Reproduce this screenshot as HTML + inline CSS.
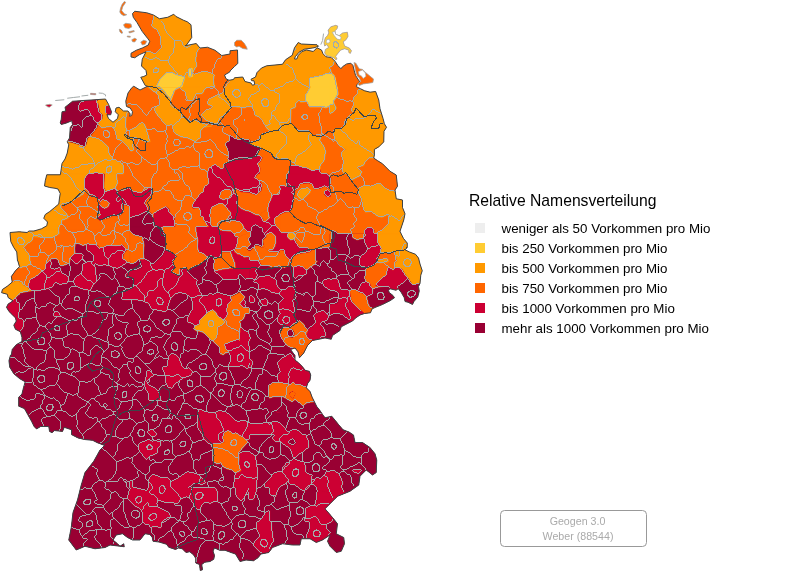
<!DOCTYPE html><html><head><meta charset="utf-8"><title>Geogen 3.0</title>
<style>html,body{margin:0;padding:0;background:#fff}body{width:800px;height:580px;overflow:hidden;position:relative;font-family:"Liberation Sans",Arial,sans-serif}svg{position:absolute;left:0;top:0;display:block}</style></head><body>
<svg width="800" height="580" viewBox="0 0 800 580">
<defs><clipPath id="de"><polygon points="132.5,13.5 134.75,11.25 146.75,12.75 153.5,15 159.5,18.75 167.75,17.25 173.75,14.25 176,16.5 183.5,20.25 187.25,21.75 191,24.75 191.75,37.5 186.5,45 185,45.75 196.25,43.5 200,48 207.5,47.25 215,50.25 221.75,55.5 230,54 230,50.75 237.5,50 237.8,63.5 234.5,66.5 230,71 229.75,72 224.5,75 226,78.75 229,80.25 233.5,79.5 234.5,77.75 242.75,77 245,81.5 251,83 252.5,85.25 254.75,84.5 254,80.75 251.75,80.75 251,79.25 255.5,77 257,72.5 261.5,68 266.75,65.75 275,65 282.5,64.25 285.5,59.75 290,56.75 292.25,55.25 294.5,47.75 298.25,42.5 301.25,44 317,44.75 318.5,46.25 314,47.75 304.25,49.25 299,52.25 295.25,56.75 294.5,59 296.75,59 298.25,55.25 302,51.5 306.5,50 313.25,51.5 317,47.75 321.5,50 323,53.75 326,56.75 331.25,57.5 335,61.25 338,65.75 341,68.75 342.56,66.67 346.69,63.92 350.83,63.23 352.89,65.3 354.27,70.81 355.65,75.63 358.41,79.76 359.78,81.83 357.03,84.59 356.34,86.65 360.47,88.72 364.61,90.79 370.12,92.17 375.63,91.48 378.75,100 380,108.75 383.12,118.75 384.38,123.75 386.5,127.25 384,131.25 383.75,141.88 378.75,146.88 374.38,149.38 374.38,155 373.75,158.12 377.5,160.62 382.5,163.75 390,171.25 396.25,175 397.5,186.25 395,190 396.25,198.75 402.5,200 402.5,207.5 405,213.75 403.75,220 400,231.25 401.25,234 403.5,238.5 407.25,243 407.25,247.5 405,249.75 409.5,252 415.5,254.25 418.5,258 420,264 422.25,270.75 420.75,275.25 420,283.5 418.5,286.5 419.25,291 417.75,297 414,301.5 412.5,304.5 408,302.25 405,301.5 404.25,297.75 401.25,292.5 398.25,288.75 396,290.25 390,288.75 388.5,290.25 389.25,292.5 393,295.5 394.5,297.75 390,300.75 382.5,304.5 375,307.5 372,309 370.5,312.75 364.5,313.5 360,315 355.5,318 352.5,321 341.25,326.75 340,330.5 332.5,335.5 331.25,339.25 325,338 312.5,340.5 307.5,345.5 303.75,353 299.5,357.75 298,351.75 295,348 292.75,348.75 290.5,349.5 295,355.5 295,360 298.75,363 301.75,366 305.5,370.5 309.25,371.25 310.75,375 310,380.25 307.75,383.25 306.25,387.75 310,391.5 312.25,397.5 314.5,402 316.75,406.5 319.75,410.25 322.75,414.75 325,417.75 331.75,416.25 335.5,420.75 338.5,424.5 343,429.75 349,432 353.5,435 355,442.5 362.5,442.5 370,447.5 375,453.75 376.75,460 376.25,472.5 372.5,475 366.25,470 360,476.25 358.75,485 350,491.25 337.5,496.25 330,503.75 325,508.75 332.5,517.5 337.5,523.75 336.25,533.75 343.75,537.5 344.5,543.75 341.25,551.25 336.25,552.5 330,546.25 327.5,541.25 330,535 322.5,540 316.25,542.5 310,538.75 301.25,538.75 300,545 292.5,545 282.5,543.75 272.5,547.5 268.75,552.5 261,554 258,557.75 253.5,560.75 246,560 240,561.5 235.5,554 231,552.5 225,550.25 219.75,550.25 214.5,548 213,551 214.5,555.5 213.75,559.25 210,561.5 204.75,562.25 201.75,564.5 202.5,569.75 200.25,570.5 199.5,564.5 195.75,563 195.75,558.5 193.5,554.75 189.75,551.75 186,552.5 182.25,548.75 178.5,548 175.5,549.5 168.75,547.25 166.5,544.25 159,542 153,541.25 152.25,537.5 150,534.5 145,533.75 140,540 132.5,540 127.5,537.5 122.5,533.75 116.25,535 113,540 117.5,543.75 120,546.25 123.75,543.75 124.25,546.75 110,545 105,547.5 95,548.75 85,546.25 76.25,550 68.75,540 71.25,527.5 73,512.5 77.5,500 81.25,485 85,472.5 93.75,461.25 100,450 105,445 104,445.19 97.5,442.75 92.62,440.31 84.5,439.5 78,437.88 71.5,434.62 71.5,429.75 64.19,427.31 62.56,431.38 54.44,430.56 52,432.68 49.56,431.38 48.75,426.5 40.62,426.5 36.56,428.94 34.12,426.5 31.69,421.62 27.62,414.31 24.38,408.62 18.69,406.19 18.69,397.25 21.94,394 23.56,387.5 25.19,381.81 19.5,378.56 13.81,373.69 9.75,367.19 8.94,360.69 10.56,355 11.38,354.93 12.19,349.56 16.25,344.69 21.94,341.44 21.94,337.38 20.31,331.69 15.44,329.25 13.81,325.19 16.25,321.12 15.44,317.88 12.19,314.62 8.94,311.38 6.5,307.31 8.12,304.06 13,300.81 8.12,297.56 7.31,294.31 1.62,292.69 2.44,289.44 7.31,286.19 12.19,282.12 11.38,276.44 15.44,270.75 19.5,266.69 17.88,261 17.5,261 16.75,252 13.75,247.5 10.75,241.5 10,232.5 19,231.75 27.25,232.5 28.75,231 34,231 41.5,228.75 46.75,225.75 47.5,222 43.75,218.25 45.25,214.5 49.75,211.5 54.25,207.75 58.75,204 59.5,198 60.25,193.5 58,189 55,188.25 49.75,187.5 44.5,186 45.25,180.75 46.75,174.75 60.25,174.75 60.5,174 61.25,168.75 62,163.5 65,159 67.25,153 68.75,144.75 67.25,141.75 69.5,138 70.25,127.5 72.5,124.5 71.75,120.75 66.5,123 61.25,124.5 60.2,123 61.25,119.25 62,111.75 65.75,111 65,107.25 72.5,101.25 83,100.5 95,99.75 105.5,99 108.5,104.25 111.5,111.75 110.75,114.75 107,114.75 108.5,118.5 113,122.25 117.5,118.5 118.25,114.75 115.25,111.75 116,108 119,107.25 123.5,111 128,111 130.25,114 129.5,116.25 131.75,115.5 132.5,111.75 130.25,108 126.5,106.5 125.75,101.25 128,93 131.75,87.75 133.75,86.25 140,90 147.5,86.25 145.25,85.5 140.75,77.25 143.75,76.5 146.75,75 146,70.5 141.5,66 142.25,59.25 146,51.75 139.25,54.75 134.75,57.75 131,57 131,53.25 136.25,50.25 142.25,48 148.25,45 149.75,41.25 147.5,38.25 142.25,31.5 137,22.5 133.25,17.25"/>
<polygon points="45.5,105 50,104.25 52.25,105 49.25,107.25 47,106.5"/>
<polygon points="90.5,93.3 95.75,93.6 95.75,94.8 90.5,94.5"/>
<polygon points="124.25,1.5 125.75,2.25 122.75,6.75 121.7,10.5 124.25,13.8 126.8,14.7 123.8,15.75 121.25,14.25 119.75,12 120.5,8.25 122,4.5"/>
<polygon points="123.5,24.75 125.75,23.25 131,24 131.75,27 128.75,28.5 125,27.75"/>
<polygon points="119.3,29.25 121.25,30 122.75,33 121.25,33.3 119.75,31.5"/>
<polygon points="131.75,39.75 134.75,38.25 136.7,39.3 134.75,42 132.5,41.7"/>
<polygon points="140.75,42 143.75,40.2 146.75,41.25 145.25,44.25 142.25,45"/>
<polygon points="128.75,31.8 134,30.45 134.3,31.5 129.5,33"/>
<polygon points="127.25,36 130.25,36.3 130.25,37.2 127.25,36.9"/>
<polygon points="234.5,42.5 236.75,40.25 241.25,40.25 244.25,43.25 246.5,47 247.25,49.25 242.75,48.5 239,46.25 236.75,47 234.5,45.5"/>
<polygon points="328.09,30.16 330.85,26.71 335.67,25.33 337.74,26.02 337.05,28.78 334.98,30.85 335.67,34.29 339.11,35.67 342.56,32.91 347.38,32.22 348.07,36.36 346,39.8 343.25,41.87 344.63,46 349.45,48.07 351.52,50.83 350.14,53.58 348.76,52.2 348.76,50.14 344.63,48.76 340.49,50.14 337.74,53.58 335.67,56.34 337.05,59.09 335.67,59.78 333.6,57.72 329.47,56.34 326.71,55.65 324.65,52.89 325.33,49.45 328.78,47.38 326.71,44.63 324.65,46 323.96,42.56 325.33,37.74 327.4,35.67 328.78,32.91"/>
<polygon points="354,62.54 355.93,63.23 359.09,68.74 362.54,69.43 365.98,72.87 373.56,79.07 372.87,82.52 368.74,83.21 363.23,83.9 359.37,85.55 357.99,83.9 360.75,81.42 359.37,77.97 357.03,75.63 355.79,71.5 354.96,67.36"/>
</clipPath></defs>
<rect width="800" height="580" fill="#fff"/>
<g clip-path="url(#de)" shape-rendering="geometricPrecision">
<rect x="0" y="0" width="430" height="580" fill="#ff6600"/>
<polygon fill="#990033" points="0,340 430,340 430,580 0,580"/>
<polygon fill="#ff9900" stroke="#ff9900" stroke-width="0.6" points="181.75,84 184.75,77.25 193,75 202,72 211,74.25 214,78 211.75,85.5 205,89.25 202.75,93.75 196,94.5 193,100.5 189.25,100.5 186.25,96.75 185.5,92.25 181.75,90 179.5,87.75"/>
<polygon fill="#ff9900" stroke="#ff9900" stroke-width="0.6" points="208.75,99.75 213.25,97.5 217,95.25 220,94.5 223.75,92.25 224.5,97.5 229,102 232,104.25 230.5,109.5 226,114 220,118.5 217,124.5 211.75,123 205,120 201.25,114.75 206.5,110.25 211.75,108.75 212.5,106.5 208,105"/>
<polygon fill="#ff9900" stroke="#ff9900" stroke-width="0.6" points="223.75,90 227.5,84 233.5,79.5 238,77.25 244,79.5 250,82.5 250,105 244,108 239.5,106.5 233.5,105 232,104.25 229,102 224.5,97.5"/>
<polygon fill="#ff9900" stroke="#ff9900" stroke-width="0.6" points="148,87.75 157,87 160,87 163.75,90 167.5,96 171.25,99.75 170.5,103.5 173.5,108 178.75,110.25 181.75,113.25 182.5,117.75 181,120 173.5,124.5 168.25,126 163.75,123 160.75,118.5 156.25,114 154.75,108 160,105 159.25,96 154,91.5"/>
<polygon fill="#ff9900" stroke="#ff9900" stroke-width="0.6" points="173.5,124.5 181,120 182.5,117.75 187,119.25 190.75,122.25 194.5,119.25 198.25,122.25 201.25,123 208,126 211.75,126 203.5,127.5 200.5,131.25 200.5,138 195.25,141.75 187,138 181,137.25 175,133.5 172.75,127.5"/>
<polygon fill="#ff9900" stroke="#ff9900" stroke-width="0.6" points="130,130.5 136,127.5 141.25,123 145,124.5 148,133.5 150.25,141.75 145,141.75 136,138 130,138.75"/>
<polygon fill="#ffcc33" stroke="#ffcc33" stroke-width="0.6" points="157,85.5 162.25,75.75 166,73.5 173.5,72.75 179.5,75 184.75,77.25 181.75,84 179.5,87.75 175,90 171.25,99.75 167.5,96 163.75,90 160,87"/>
<polygon fill="#ffcc33" points="189.25,69 192.25,69 192.25,76.5 189.25,76.5"/>
<polygon fill="#ff9900" stroke="#ff9900" stroke-width="0.6" points="153.5,15 159.5,18.75 167.75,17.25 173.75,14.25 176,16.5 183.5,20.25 187.25,21.75 191,24.75 191.75,37.5 186.5,45 185,45.75 196.25,43.5 200,48 197,52.5 196.25,60 197,66 192.5,73.5 194,75 200,73.5 206,72 215,75 213.5,79.5 215,87 182,87 146,87 145.25,85.5 140.75,77.25 146.75,75 146,70.5 141.5,66 142.25,59.25 146,51.75 150.5,51.75 155,54.75 161.75,48 161,37.5 157.25,30 152,27 153.5,19.5"/>
<polygon fill="#ffcc33" stroke="#ffcc33" stroke-width="0.6" points="161,78 167,72.75 173,72.75 176,75 185,77.25 182,87 156.5,87"/>
<polygon fill="#ffcc33" stroke="#ffcc33" stroke-width="0.6" points="188.75,69 192.2,68.25 192.5,76.5 188.75,77.25"/>
<polygon fill="#ff9900" stroke="#ff9900" stroke-width="0.6" points="230,77 242.75,76.25 255.5,76.25 261.5,67.25 275,64.25 282.5,63.5 292.25,54.5 294.5,47 298.25,41.75 318.5,44 323,53.75 326,56.75 331.25,57.5 335,61.25 333.5,65 329.75,68 332,71.75 323,75.5 315.5,77.75 311.75,79.25 311,87.5 305.75,95 308,101.75 300.5,102.5 298.25,99.5 295.25,103.25 296,107 230,107"/>
<polygon fill="#ffcc33" stroke="#ffcc33" stroke-width="0.6" points="311.75,79.25 315.5,77.75 323,75.5 332,73.25 335,77 335.75,83 337.25,90.5 335,95 333.5,101 335,107 309.5,107 308,101.75 305.75,95 311,87.5"/>
<polygon fill="#ffcc33" stroke="#ffcc33" stroke-width="0.6" points="310,78 316,77.25 331,73.5 334,75 335.5,79.5 337,87 310,87"/>
<polygon fill="#ff9900" stroke="#ff9900" stroke-width="0.6" points="230,87 311,87 306.5,94.5 305.75,101.25 299,100.5 296,103.5 295.25,108 291.5,108.75 290.75,123 287.75,124.5 282.5,125.25 278,130.5 271.25,131.25 266.75,129 262.25,119.25 259.25,117 255.5,116.25 254.75,111 249.5,105 245,108 236.75,107.25 232.25,105 230,100.5"/>
<polygon fill="#ffcc33" stroke="#ffcc33" stroke-width="0.6" points="311,87 337.25,87 338,93 336.5,97.5 333.5,101.25 332,104.25 326,108 320,105.75 314,105 309.5,102 305.75,101.25 306.5,94.5"/>
<polygon fill="#ff9900" stroke="#ff9900" stroke-width="0.6" points="260.75,135 266.75,132.75 271.25,131.25 278,130.5 282.5,125.25 287.75,124.5 290.75,123 294.5,126.75 298.25,131.25 305,131.25 309.5,131.25 313.25,135.75 321.5,136.5 320,141 323.75,145.5 326,151.5 324.5,160.5 320.75,165 320,169.5 311.75,171 308,168.75 303.5,165 297.5,165.75 290,160.5 286.25,159 278,159.75 273.5,157.5 271.25,153 262.25,149.25 257.75,147 251,144.75 248.75,143.25 254,141.75 260,139.5"/>
<polygon fill="#ff9900" stroke="#ff9900" stroke-width="0.6" points="350,117 346.25,119.25 345.5,124.5 341.75,128.25 335,129 333.5,132.75 335,138 338,144 344,148.5 350,150"/>
<polygon fill="#ff9900" stroke="#ff9900" stroke-width="0.6" points="350,150 344,151.5 341.75,154.5 344,162 342.5,168.75 344,174 350,174"/>
<polygon fill="#990033" stroke="#990033" stroke-width="0.6" points="230,135 233,137.25 237.5,140.25 243.5,138.75 248,144 254,146.25 262.25,148.5 257.75,151.5 257,155.25 251,159 245,158.25 239,159 233,162 230,161.25"/>
<polygon fill="#cc0033" stroke="#cc0033" stroke-width="0.6" points="230,161.25 233,162 239,159 245,158.25 251,159 257,155.25 262.25,157.5 260,162 257,163.5 260,168 259.25,174 230,174"/>
<polygon fill="#cc0033" stroke="#cc0033" stroke-width="0.6" points="290,165.75 297.5,165.75 303.5,168 308,168.75 311.75,171 320,169.5 320.75,174 289.25,174"/>
<polygon fill="#ff9900" stroke="#ff9900" stroke-width="0.6" points="358.5,90 366,90 369.75,92.25 375,91.5 376.5,92.25 378,103.5 380.25,111 382.5,118.5 384.75,126 387,127.5 384,132 383.25,141.75 381.75,147 340.5,147 334.5,136.5 333.75,130.5 338.25,129 342,129.75 345,124.5 345.75,120 350.25,115.5 354,112.5 351.75,111.75 352.5,108 354,105 353.25,100.5 354.75,96.75 357.75,94.5"/>
<polygon fill="#ffcc33" stroke="#ffcc33" stroke-width="0.6" points="330,75 334.5,76.5 336.75,87 338.25,94.5 333,100.5 330,103.5"/>
<polygon fill="#ff9900" stroke="#ff9900" stroke-width="0.6" points="330,105 334.5,104.25 336.75,108 333.75,111.75 330,114"/>
<polygon fill="#ff9900" stroke="#ff9900" stroke-width="0.6" points="97.25,99 105.5,99 108.5,104.25 106.25,105.75 105.5,111 107,114.75 108.5,118.5 113,122.25 111.5,126.75 105.5,127.5 101.75,128.25 98,123 101.75,119.25 102.2,114.75 99.5,112.5 98,105"/>
<polygon fill="#ff9900" stroke="#ff9900" stroke-width="0.6" points="113,122.25 117.5,118.5 118.25,114.75 115.25,111.75 116,108 119,107.25 123.5,111 128,111 126.5,117 125.75,126 127.25,129.75 125,132 128,136.5 134,139.5 133.25,145.5 134,150 131,151.5 128,147 123.5,141.75 117.5,139.5 116,132 113.75,128.25 111.5,126.75"/>
<polygon fill="#ff9900" stroke="#ff9900" stroke-width="0.6" points="68.75,141.75 72.5,142.5 80,144.75 84.5,147 86,144.75 87.5,138 89.75,136.5 93.5,138 99.5,139.5 105.5,144 108.5,147 109.25,153 113,159 117.5,161.25 123.5,165 123.5,174 60.5,174 61.25,168.75 62,163.5 65,159 67.25,153 68.75,144.75"/>
<polygon fill="#990033" stroke="#990033" stroke-width="0.6" points="65,107.25 72.5,101.25 83,100.5 95,99.75 97.25,99 98,105 99.5,112.5 102.2,114.75 101.75,119.25 98,123 97.25,126.75 93.5,132 89.75,136.5 87.5,138 86,144.75 84.5,147 80,144.75 72.5,142.5 68.75,141.75 69.5,138 70.25,127.5 72.5,124.5 71.75,120.75 61.25,124.5 60.2,123 61.25,119.25 62,111.75 65.75,111"/>
<polygon fill="#cc0033" stroke="#cc0033" stroke-width="0.6" points="78.5,106.5 81.5,102 89,100.5 96.5,99.75 98,105 99.5,112.5 102.2,114.75 101.75,119.25 98,123 95,122.25 93.5,117 90.5,114 89,109.5 84.5,110.25 80,111.75"/>
<polygon fill="#cc0033" stroke="#cc0033" stroke-width="0.6" points="60.5,123 66.5,121.2 71.75,120.3 73.25,123 71.75,124.5 66.5,123.75 61.25,124.8"/>
<polygon fill="#cc0033" stroke="#cc0033" stroke-width="0.6" points="105.5,106.5 108.5,105.75 111.5,111.75 110.75,114.75 107,114.75 105.8,111"/>
<polygon fill="#cc0033" points="94.25,172.5 98,172.5 98,174 94.25,174"/>
<polygon fill="#990033" stroke="#990033" stroke-width="0.6" points="225.25,143.75 232,140 250,140 250,158.75 244,158 235,158.75 229.75,161.75 228.25,159.5 229,153.5 227.5,147.5"/>
<polygon fill="#cc0033" stroke="#cc0033" stroke-width="0.6" points="250,158.75 244,158 235,158.75 229.75,161.75 224.5,164 223.75,168.5 220,168.5 215.5,164.75 209.5,167.75 208,174.5 209.5,183.5 205,186.5 203.5,191.75 200.5,194 196,200 192.25,206 193,208.25 199.75,207.5 201.25,212 200.5,216.5 203.5,216.5 205,221.75 209.5,227 218.5,227 220,221.75 227.5,220.25 235,221 238,212 237.25,204.5 239.5,199.25 235,194 233.5,190.25 235,188 241,191.75 250,192.5"/>
<polygon fill="#ff6600" stroke="#ff6600" stroke-width="0.6" points="220.75,192.5 225.25,189.5 230.5,190.25 232,192.5 230.5,199.25 226,200.75 221.5,197.75"/>
<polygon fill="#ff6600" stroke="#ff6600" stroke-width="0.6" points="218.5,203.75 223.75,203.75 226,209 232,212 230.5,218 226,221 220,221.75 218.5,227 211.75,227 211,221 210.25,215 211.75,207.5 215.5,206"/>
<polygon fill="#cc0033" stroke="#cc0033" stroke-width="0.6" points="130,188 133,191.75 140.5,193.25 146.5,189.5 150.25,188 152.5,190.25 151,195.5 146.5,200 145,203.75 148,207.5 148.75,211.25 144.25,212.75 140.5,215 134.5,216.5 130,218"/>
<polygon fill="#990033" stroke="#990033" stroke-width="0.6" points="130,218 134.5,216.5 140.5,215 144.25,212.75 148.75,211.25 152.5,215 154,221 154,227 130,227"/>
<polygon fill="#cc0033" stroke="#cc0033" stroke-width="0.6" points="154,213.5 158.5,210.5 166,206.75 169,209 169.75,213.5 174.25,216.5 175,227 154,227"/>
<polygon fill="#ff9900" stroke="#ff9900" stroke-width="0.6" points="46.75,174 88,174 85,178.5 85.75,188.25 83.5,194.25 76,198.75 70.75,202.5 61,204.75 61.75,209.25 67.75,214.5 68.5,218.25 62.5,220.5 59.5,226.5 58.75,231.75 61.75,236.25 55,238.5 52,241.5 43,240 34,237 29.5,240 25,247.5 28,252 28.75,258 26.5,261 17.5,261 16.75,252 13.75,247.5 10.75,241.5 10,232.5 19,231.75 27.25,232.5 28.75,231 34,231 41.5,228.75 46.75,225.75 47.5,222 43.75,218.25 45.25,214.5 49.75,211.5 54.25,207.75 58.75,204 59.5,198 60.25,193.5 58,189 49.75,187.5 44.5,186 45.25,180.75"/>
<polygon fill="#ff9900" stroke="#ff9900" stroke-width="0.6" points="104.5,174 116.5,174 118,183 115,189 112,189.75 106,192 103.75,187.5"/>
<polygon fill="#cc0033" stroke="#cc0033" stroke-width="0.6" points="88,174 104.5,174 103.75,187.5 106,192 112,189.75 115,189 118,192 121.75,198.75 122.5,204 121.75,210 124,211.5 121,214.5 118,216 113.5,215.25 109,217.5 103.75,219 100,220.5 97,218.25 100.75,215.25 99.25,210 97.75,207 100,203.25 99.25,199.5 95.5,196.5 91,195 87.25,189.75 85,188.25 85,178.5"/>
<polygon fill="#ff6600" stroke="#ff6600" stroke-width="0.6" points="100,202.5 102.25,200.25 106.75,201 109.75,203.25 108.25,207 104.5,208.5 100.75,206.25"/>
<polygon fill="#cc0033" stroke="#cc0033" stroke-width="0.6" points="116.5,192 124,190.5 130,187.5 130,206.25 127,205.5 122.5,204 121.75,198.75 118,192"/>
<polygon fill="#990033" stroke="#990033" stroke-width="0.6" points="75.25,243.75 78.25,243 82,245.25 86.5,244.5 87.25,252 91.75,252.75 91.75,261 83.5,261 83.5,255.75 79.75,253.5 76,253.5"/>
<polygon fill="#cc0033" stroke="#cc0033" stroke-width="0.6" points="70.75,255.75 76,253.5 79.75,253.5 83.5,255.75 83.5,261 70,261"/>
<polygon fill="#cc0033" stroke="#cc0033" stroke-width="0.6" points="87.25,244.5 94,244.5 98.5,246 97,252 95.5,255 91.75,252.75 87.25,252"/>
<polygon fill="#cc0033" stroke="#cc0033" stroke-width="0.6" points="98.5,246 103,247.5 109,249 115,245.25 121,246 125.5,249 126.25,255 122.5,261 91.75,261 91.75,252.75 95.5,255 97,252"/>
<polygon fill="#990033" stroke="#990033" stroke-width="0.6" points="50.5,260.25 54.25,258.75 58,261 50.5,261"/>
<polygon fill="#cc0033" points="130,227 250,227 250,314 130,314"/>
<polygon fill="#990033" stroke="#990033" stroke-width="0.6" points="130,227 157,227 161.5,230 165.25,234.5 166,242 165.25,249.5 162.25,255.5 157.75,260 153.25,264.5 149.5,261.5 144.25,259.25 143.5,253.25 144.25,245 142.75,237.5 134.5,235.25 130,231.5"/>
<polygon fill="#ff6600" stroke="#ff6600" stroke-width="0.6" points="130,231.5 134.5,235.25 142.75,237.5 144.25,245 143.5,253.25 144.25,259.25 139,259.25 136,263 130,264.5"/>
<polygon fill="#990033" stroke="#990033" stroke-width="0.6" points="130,264.5 136,263 139,259.25 141.25,263 142,267.5 136,269.75 130,270.5"/>
<polygon fill="#990033" stroke="#990033" stroke-width="0.6" points="130,277.25 133,278 133.75,287 130,290"/>
<polygon fill="#990033" stroke="#990033" stroke-width="0.6" points="130,300.5 139,301.25 145,303.5 149.5,308.75 150.25,314 130,314"/>
<polygon fill="#ff6600" stroke="#ff6600" stroke-width="0.6" points="162.25,227 196,227 196.75,234.5 198.25,240.5 197.5,246.5 199,251.75 205,254.75 208,257.75 203.5,261.5 198.25,265.25 193,267.5 188.5,269.75 186.25,268.25 181,269.75 179.5,275.75 175,274.25 171.25,272 175,267.5 172.75,261.5 176.5,256.25 172,252.5 166,249.5 166,242 165.25,234.5"/>
<polygon fill="#ff6600" stroke="#ff6600" stroke-width="0.6" points="219.25,227 244.75,227 244.75,230.75 250,230.75 250,257 247,256.25 244.75,251.75 239.5,248 237.25,243.5 238,238.25 235,236 226,231.5 220,229.25"/>
<polygon fill="#990033" stroke="#990033" stroke-width="0.6" points="168.25,314 168.25,305 172,296.75 178,293 185.5,294.5 190.75,298.25 193,305 192.25,314"/>
<polygon fill="#ff9900" stroke="#ff9900" stroke-width="0.6" points="210.25,309.5 214,308.75 216.25,311 215.5,314 211,314"/>
<polygon fill="#ff6600" stroke="#ff6600" stroke-width="0.6" points="229,314 232,308 250,308 250,314"/>
<polygon fill="#cc0033" points="180,250 250,250 250,308 180,308"/>
<polygon fill="#990033" stroke="#990033" stroke-width="0.6" points="188,271 192,268 200,264.5 207,259 209.5,256 213,256.5 215,261 214,266 215,271 213.5,273 209,274 206.5,279 203,281 199.5,282 195,279 191,276 189,274"/>
<polygon fill="#990033" stroke="#990033" stroke-width="0.6" points="199.5,282 203,281 206.5,279 209,274 213.5,273 218.5,274 222.5,278.5 226.5,282.5 234,283 233,288 231.5,291 224,290.5 223.5,294.5 219.5,295 216,292.5 212,292 210,293 208.5,288.5 204.5,287.5 201.5,287 201,284"/>
<polygon fill="#990033" stroke="#990033" stroke-width="0.6" points="234,283 237,280 240,274.5 244,277 245.5,279.5 252,279 252.5,276.5 255,278 255.5,281 254,282 260,285 260,308 248,308 245,306 246,302 244,299 245,296.5 242,294.5 240,292.5 237,294 234.5,296 231.5,296.5 232,293 231.5,291 233,288"/>
<polygon fill="#ff6600" stroke="#ff6600" stroke-width="0.6" points="180,250 199,250 198.5,252.5 205,254.5 208,258 207,259 200,264.5 192,268 188,271 186.5,268 180,269"/>
<polygon fill="#ff6600" stroke="#ff6600" stroke-width="0.6" points="214.5,258.5 221,257 222,252 231,252 232.5,257 235,263 235.5,268 229,268.5 222,269.5 215.5,271 214,266 215,261"/>
<polygon fill="#ff6600" stroke="#ff6600" stroke-width="0.6" points="235,250 260,250 260,263 257.5,259.5 253.5,257 249,256.5 244,257.5 242,255 237,254"/>
<polygon fill="#ff6600" stroke="#ff6600" stroke-width="0.6" points="231,297 234.5,296 237,294 240,292.5 242,294.5 245,296.5 244,299 242,301 240,304 236,305.5 233,303.5 231.5,300"/>
<polygon fill="#ff6600" stroke="#ff6600" stroke-width="0.6" points="234.5,308 236,306 240,304.5 242,306 243,308"/>
<polygon fill="#990033" stroke="#990033" stroke-width="0.6" points="180,293 186,294.5 191,297 193,302 193,308 180,308"/>
<polygon fill="#990033" points="0,261 130,261 130,355.25 0,355.25"/>
<polygon fill="#ff9900" stroke="#ff9900" stroke-width="0.6" points="17.88,261 31.69,261 30.88,265.06 24.38,266.69 19.5,267.5 15.44,270.75 14.62,261"/>
<polygon fill="#ff9900" stroke="#ff9900" stroke-width="0.6" points="2.44,289.44 7.31,286.19 12.19,282.12 16.25,280.5 21.94,281.31 26,285.38 29.25,291.06 24.38,292.69 17.88,295.12 13.81,300.81 13,300.81 8.12,297.56 7.31,294.31 1.62,292.69"/>
<polygon fill="#ff6600" stroke="#ff6600" stroke-width="0.6" points="31.69,261 43.88,261 44.69,265.88 40.62,269.12 37.38,274 32.5,275.62 27.62,277.25 24.38,278.88 26,285.38 21.94,281.31 16.25,280.5 12.19,282.12 11.38,276.44 15.44,270.75 19.5,267.5 24.38,266.69 30.88,265.06"/>
<polygon fill="#ff6600" stroke="#ff6600" stroke-width="0.6" points="60.12,261 71.5,261 68.25,264.25 63.38,265.06"/>
<polygon fill="#cc0033" stroke="#cc0033" stroke-width="0.6" points="43.88,261 52,261 53.62,267.5 48.75,270.75 40.62,275.62 41.44,280.5 45.5,285.38 48.75,287.81 43.88,291.06 35.75,292.69 29.25,291.06 26,285.38 24.38,278.88 32.5,275.62 37.38,274 40.62,269.12 44.69,265.88"/>
<polygon fill="#cc0033" stroke="#cc0033" stroke-width="0.6" points="56.06,277.25 60.94,274.81 66.62,275.62 68.25,280.5 65,284.56 60.12,283.75 56.88,281.31"/>
<polygon fill="#cc0033" stroke="#cc0033" stroke-width="0.6" points="73.94,282.12 78,277.25 81.25,270.75 82.88,264.25 91,263.44 95.88,267.5 97.5,277.25 95.88,283.75 93.44,287.81 90.19,291.06 85.31,291.88 79.62,288.62 74.75,285.38"/>
<polygon fill="#cc0033" stroke="#cc0033" stroke-width="0.6" points="71.5,261 130,261 130,263.44 123.5,265.88 117,268.31 110.5,267.5 104,264.25 97.5,262.62 91,263.44 82.88,264.25 76.38,264.25"/>
<polygon fill="#cc0033" stroke="#cc0033" stroke-width="0.6" points="125.94,274.81 130,273.19 130,278.88 126.75,278.06"/>
<polygon fill="#cc0033" stroke="#cc0033" stroke-width="0.6" points="124.31,291.06 130,290.25 130,300 125.12,299.19 123.5,295.12"/>
<polygon fill="#cc0033" stroke="#cc0033" stroke-width="0.6" points="8.12,304.06 13,300.81 16.25,297.56 17.06,302.44 20.31,303.25 21.12,308.12 18.69,314.62 19.5,318.69 23.56,320.31 24.38,326 21.12,330.88 20.31,331.69 15.44,329.25 13.81,325.19 16.25,321.12 15.44,317.88 12.19,314.62 8.94,311.38 6.5,307.31"/>
<polygon fill="#ff6600" points="250,174 370,174 370,261 250,261"/>
<polygon fill="#cc0033" stroke="#cc0033" stroke-width="0.6" points="287.5,174 328,174 331,178.5 330.25,185.25 328,188.25 325,186 320.5,188.25 314.5,189 313,184.5 308.5,183 300.25,183.75 298.75,187.5 295,190.5 294.25,186.75 287.5,186.75 286.75,181.5"/>
<polygon fill="#cc0033" stroke="#cc0033" stroke-width="0.6" points="280,186 287.5,186.75 294.25,186.75 295,190.5 294.25,193.5 293.5,199.5 292,208.5 289.75,211.5 284.5,212.25 280,214.5 276.25,219 272.5,219.75 268.75,216 268,208.5 270.25,202.5 275.5,198.75 279.25,195 280.75,189"/>
<polygon fill="#cc0033" stroke="#cc0033" stroke-width="0.6" points="325,191.25 328,189.75 331,192 330.25,196.5 326.5,196.5 324.25,194.25"/>
<polygon fill="#ff9900" stroke="#ff9900" stroke-width="0.6" points="298.75,192 301.75,189 307.75,188.25 310.75,189.75 310,192.75 307,195.75 302.5,199.5 298.75,198 298,195"/>
<polygon fill="#ff9900" stroke="#ff9900" stroke-width="0.6" points="347.5,174 361,174 355,178.5 352,180"/>
<polygon fill="#ff9900" stroke="#ff9900" stroke-width="0.6" points="359.5,189 364,186.75 370,186 370,210 365.5,209.25 363.25,204 361.75,198 358.75,193.5"/>
<polygon fill="#cc0033" stroke="#cc0033" stroke-width="0.6" points="250,174 257.5,174 254.5,178.5 259,180 262,184.5 261.25,190.5 256,195 250,192.75"/>
<polygon fill="#cc0033" stroke="#cc0033" stroke-width="0.6" points="250,212.25 256,214.5 260.5,217.5 264.25,222 271,219.75 276.25,219 274.75,223.5 277.75,228.75 281.5,233.25 288.25,233.25 295,240 296.5,243 299.5,247.5 307.75,248.25 311.5,250.5 309.25,252 299.5,253.5 293.5,255.75 290.5,261 285.25,255 284.5,250.5 277,249 271,250.5 265,247.5 259,244.5 255.25,246 250,249"/>
<polygon fill="#ff6600" stroke="#ff6600" stroke-width="0.6" points="265,235.5 269.5,233.25 274.75,234 276.25,238.5 275.5,244.5 277,249 271,250.5 265.75,247.5 264.25,241.5"/>
<polygon fill="#990033" stroke="#990033" stroke-width="0.6" points="250,225.75 253,228 256,225 259.75,228.75 262,231.75 265,235.5 264.25,238.5 262,237.75 262.75,242.25 259,244.5 255.25,246 252.25,249 250,249.75"/>
<polygon fill="#ff9900" stroke="#ff9900" stroke-width="0.6" points="287.5,234 290.5,232.5 294.25,233.25 295.75,236.25 294.25,239.25 290.5,240 287.8,237.75"/>
<polygon fill="#990033" stroke="#990033" stroke-width="0.6" points="331.75,231 335.5,231.75 337,234 341.5,235.5 349,237 353.5,240 359.5,238.5 364,240.75 364.75,247.5 367.75,252 365.5,255.75 359.5,256.5 358,261 316,261 316,249 325,248.25 331,247.5 334,244.5 334.75,240 332.5,235.5"/>
<polygon fill="#cc0033" stroke="#cc0033" stroke-width="0.6" points="365.5,229.5 370,227.25 370,261 358,261 359.5,256.5 365.5,255.75 367.75,252 364.75,247.5 364,240.75 364.75,234"/>
<polygon fill="#ff6600" points="370.05,147 450,147 450,234 370.05,234"/>
<polygon fill="#ff9900" stroke="#ff9900" stroke-width="0.6" points="341.25,153 345,150 352.5,147 378.75,147 375,150 374.25,158.25 369,158.25 365.25,162 363.75,165.75 357.75,167.25 359.25,170.25 362.25,171.75 360,176.25 354.75,178.5 351.75,180 348,174.75 345,172.5 342.75,169.5 343.5,163.5 345.75,160.5 343.5,156.75"/>
<polygon fill="#ff9900" stroke="#ff9900" stroke-width="0.6" points="358.5,189 363.75,186 370.5,186.75 378,183.75 381.75,184.5 385.5,189 389.25,190.5 393.75,190.5 395.25,193.5 396.75,198.75 402,199.5 402.75,206.25 402,210 405,213.75 405,217.5 404.25,220.5 403.5,227.25 399.75,232.5 399,234 375,234 381,231 386.25,226.5 389.25,222.75 388.5,218.25 390,215.25 387,215.25 381.75,217.5 376.5,216 372,211.5 365.25,212.25 363,205.5 363.75,200.25 360.75,195"/>
<polygon fill="#cc0033" stroke="#cc0033" stroke-width="0.6" points="365.25,230.25 367.5,228 372,228 374.25,230.25 373.5,234 366,234"/>
<polygon fill="#990033" points="250,261 370,261 370,348 250,348"/>
<polygon fill="#ff6600" stroke="#ff6600" stroke-width="0.6" points="259,261 289.75,261 289,265.5 284.5,267.75 278.5,266.25 272.5,267.75 268,265.5 261.25,265.5"/>
<polygon fill="#ff6600" stroke="#ff6600" stroke-width="0.6" points="290.5,261 317.5,261 314.5,264.75 310,267.75 307,270 302.5,267 298,266.25 293.5,267.75 291.25,265.5"/>
<polygon fill="#cc0033" stroke="#cc0033" stroke-width="0.6" points="250,261 259,261 261.25,265.5 259,267.75 256,270.75 250,271.5"/>
<polygon fill="#cc0033" stroke="#cc0033" stroke-width="0.6" points="293.5,267.75 298,266.25 302.5,267 307,270 306.25,274.5 301.75,276 296.5,276.75 294.25,279 293.5,273"/>
<polygon fill="#cc0033" stroke="#cc0033" stroke-width="0.6" points="324.25,280.5 328,279.75 337,279 340,283.5 340.75,290.25 334,291.75 328.75,291.75 325,288 323.5,283.5"/>
<polygon fill="#cc0033" stroke="#cc0033" stroke-width="0.6" points="340,293.25 349,291.75 352,300 355,306 359.5,310.5 361,314.25 356.5,318 353.5,322.5 349,317.25 343,312.75 337,311.25 331.75,309.75 332.5,305.25 338.5,301.5 340,297"/>
<polygon fill="#ff6600" stroke="#ff6600" stroke-width="0.6" points="349,291.75 353.5,289.5 358,291.75 364,296.25 367,303 370,307.5 370,312.75 361,314.25 359.5,310.5 355,306 352,300"/>
<polygon fill="#cc0033" stroke="#cc0033" stroke-width="0.6" points="361,261 370,261 370,267 365.5,267.75 361.75,265.5"/>
<polygon fill="#cc0033" stroke="#cc0033" stroke-width="0.6" points="357.25,288 364,282 370,282 370,295.5 365.5,296.25 361,293.25 358,291.75"/>
<polygon fill="#ff6600" stroke="#ff6600" stroke-width="0.6" points="366.25,268.5 370,267 370,281.25 367,280.5 364.75,274.5"/>
<polygon fill="#cc0033" stroke="#cc0033" stroke-width="0.6" points="314.5,315 320.5,311.25 325,312 328.75,315 326.5,320.25 323.5,324 319.75,323.25 316,320.25"/>
<polygon fill="#cc0033" stroke="#cc0033" stroke-width="0.6" points="307.75,330.75 313,324 317.5,322.5 322,325.5 325,329.25 326.5,336 318.25,338.25 311.5,340.5 307.75,339 306.25,334.5"/>
<polygon fill="#ff6600" stroke="#ff6600" stroke-width="0.6" points="279.25,330.75 284.5,327.75 285.25,324 290.5,327 300.25,321 304,324 305.5,327.75 307.75,330.75 306.25,334.5 307.75,339 311.5,340.5 307.75,343.5 304,348 291.25,348 286,345 282.25,339 280.75,334.5"/>
<polygon fill="#990033" stroke="#990033" stroke-width="0.6" points="288.25,330.75 292,329.25 294.25,333 292.75,337.5 289,336.75 287.5,333.75"/>
<polygon fill="#990033" stroke="#990033" stroke-width="0.6" points="250,270 330,270 330,327 306,327 304,320 298,320 290,327.5 250,327.5"/>
<polygon fill="#cc0033" stroke="#cc0033" stroke-width="0.6" points="254,281 257,279.5 259,277 263,277.5 266,275.5 271,276.5 274,279.5 276.5,280.5 277,284 279.5,288.5 282,290 286,289.5 287.5,287.5 290.5,286.5 293,286.5 295,289 296,291.5 295.5,294.5 296.5,296.5 295,299.5 293,300 294,304 295,310 295.5,314 295,318 297.5,320 298,322 293,324.5 290,327.5 283,327.5 284,324.5 282,325.5 279,324 277.5,320 279,315.5 281,314 278.5,311.5 279,307 279.5,303 281.5,300.5 285,299.5 283,297 279,294 271,293 269,290.5 263,289 259.5,290 258,287.5 259.5,285 257.5,283 254.5,282.5"/>
<polygon fill="#cc0033" stroke="#cc0033" stroke-width="0.6" points="250,295.5 253,296 255,298.5 255.5,301 253,303 250,303.5"/>
<polygon fill="#cc0033" stroke="#cc0033" stroke-width="0.6" points="261.5,300.5 265,299 268,300 268.5,303.5 266.5,306 263,305.5 261,303.5"/>
<polygon fill="#cc0033" stroke="#cc0033" stroke-width="0.6" points="250,270 255.5,270 256,273 258,275 257,278 254,280 251.5,278 250,279"/>
<polygon fill="#cc0033" stroke="#cc0033" stroke-width="0.6" points="294,270 305,270 307,271.5 306.5,274.5 302,276 298,276.5 295.5,279 294,276 293.5,273"/>
<polygon fill="#cc0033" stroke="#cc0033" stroke-width="0.6" points="324,280 330,279 330,290 327,289 324.5,286.5 323,283"/>
<polygon fill="#cc0033" stroke="#cc0033" stroke-width="0.6" points="314,315 318,312.5 324,310.5 327,313 329,317 327,320.5 322,322 320,324.5 323,328 314,328 312,326 316,322 315,318"/>
<polygon fill="#990033" stroke="#990033" stroke-width="0.6" points="330,234 366,234 364.5,240 366,244.5 368.25,249 365.25,253.5 360.75,256.5 360,261 360.75,267 366.75,267.75 365.25,277.5 366,282 361.5,283.5 358.5,289.5 352.5,289.5 349.5,291 345,289.5 341.25,290.25 339,280.5 336.75,279 330,279.75"/>
<polygon fill="#ff6600" stroke="#ff6600" stroke-width="0.6" points="330,234 333.75,234 335.25,241.5 333,245.25 330,246"/>
<polygon fill="#ff6600" stroke="#ff6600" stroke-width="0.6" points="352.5,234 364.5,234 363.75,238.5 357,240 352.5,237.75"/>
<polygon fill="#cc0033" stroke="#cc0033" stroke-width="0.6" points="366,234 378,234 378,240 378.75,244.5 381.75,248.25 380.25,253.5 377.25,258.75 378,261.75 373.5,265.5 366.75,267.75 360.75,267 360,261 360.75,256.5 365.25,253.5 368.25,249 366,244.5 364.5,240"/>
<polygon fill="#ff9900" stroke="#ff9900" stroke-width="0.6" points="378,234 401.25,234 403.5,238.5 407.25,243 407.25,247.5 405,249.75 400.5,250.5 394.5,251.25 390,253.5 385.5,252.75 380.25,253.5 381.75,248.25 378.75,244.5 378,240"/>
<polygon fill="#ff9900" stroke="#ff9900" stroke-width="0.6" points="394.5,251.25 400.5,250.5 405,249.75 409.5,252 415.5,254.25 418.5,258 420,264 422.25,270.75 420.75,275.25 420,283.5 417.75,284.25 412.5,285 408,278.25 405,274.5 402,269.25 398.25,267.75 395.25,267.75 394.5,264 396.75,260.25 395.25,256.5"/>
<polygon fill="#ff6600" stroke="#ff6600" stroke-width="0.6" points="380.25,253.5 385.5,252.75 390,253.5 394.5,251.25 395.25,256.5 396.75,260.25 394.5,264 395.25,267.75 393,270.75 390,267.75 387.75,268.5 387,274.5 379.5,280.5 375.75,285.75 371.25,288 369.75,283.5 366,282 365.25,277.5 366.75,267.75 373.5,265.5 378,261.75 377.25,258.75"/>
<polygon fill="#ff9900" stroke="#ff9900" stroke-width="0.6" points="378,260.25 387.75,258.75 388.5,261.75 379.5,263.25"/>
<polygon fill="#cc0033" stroke="#cc0033" stroke-width="0.6" points="387.75,268.5 390,267.75 393,270.75 395.25,267.75 398.25,267.75 402,269.25 405,274.5 408,278.25 405,282 398.25,286.5 396,290.25 390,288.75 388.5,286.5 382.5,287.25 375.75,285.75 379.5,280.5 387,274.5"/>
<polygon fill="#990033" stroke="#990033" stroke-width="0.6" points="408,278.25 412.5,285 417.75,284.25 420,283.5 418.5,286.5 419.25,291 417.75,297 414,301.5 412.5,304.5 408,302.25 405,301.5 404.25,297.75 401.25,292.5 398.25,288.75 398.25,286.5 405,282"/>
<polygon fill="#990033" stroke="#990033" stroke-width="0.6" points="366.75,297 372.75,294 373.5,288.75 382.5,287.25 388.5,286.5 390,288.75 388.5,290.25 389.25,292.5 393,295.5 394.5,297.75 390,300.75 382.5,304.5 375,307.5 370.5,308.25 368.25,303"/>
<polygon fill="#ff6600" stroke="#ff6600" stroke-width="0.6" points="349.5,291 352.5,289.5 358.5,291.75 364.5,294 366.75,297 368.25,303 370.5,308.25 372,309 370.5,312.75 364.5,313.5 360,309.75 355.5,306 351,300 350.25,295.5"/>
<polygon fill="#cc0033" stroke="#cc0033" stroke-width="0.6" points="366,282 369.75,283.5 371.25,288 373.5,288.75 372.75,294 366.75,297 364.5,294 358.5,291.75 358.5,289.5 361.5,283.5"/>
<polygon fill="#cc0033" stroke="#cc0033" stroke-width="0.6" points="330,279.75 336.75,279 339,280.5 341.25,290.25 345,289.5 349.5,291 350.25,295.5 351,300 355.5,306 360,309.75 364.5,313.5 360,315 355.5,318 352.5,321 330,321"/>
<polygon fill="#990033" stroke="#990033" stroke-width="0.6" points="330,291 337.5,291.75 339.75,294 337.5,303 330,304.5"/>
<polygon fill="#990033" stroke="#990033" stroke-width="0.6" points="330,315.75 336,313.5 344.25,315.75 348,319.5 349.5,321 330,321"/>
<polygon fill="#990033" points="130,314 250,314 250,401 130,401"/>
<polygon fill="#ff9900" stroke="#ff9900" stroke-width="0.6" points="194.5,326 199.75,322.25 202,317.75 208,315.5 214,314 217,314 218.5,318.5 226,321.5 223.75,323.75 218.5,326.75 217,329 220,332.75 218.5,338 213.25,341.75 209.5,338.75 206.5,335 202,331.25 199,330.5 194.5,330.5"/>
<polygon fill="#ff6600" stroke="#ff6600" stroke-width="0.6" points="226,321.5 227.5,317 232,314 245.5,314 244,318.5 240.25,321.5 241,327.5 237.25,331.25 232,329 228.25,326"/>
<polygon fill="#ff6600" stroke="#ff6600" stroke-width="0.6" points="217,329 223.75,328.25 232,329 237.25,331.25 238.75,336.5 235,340.25 229,342.5 224.5,344 226,349.25 230.5,351.5 225.25,353 223.75,355.25 220.75,354.5 220,347.75 213.25,341.75 218.5,338 220,332.75"/>
<polygon fill="#cc0033" stroke="#cc0033" stroke-width="0.6" points="189.25,314 202,314 202,317.75 199.75,322.25 194.5,326 193,323 189.25,322.25 187,323.75 187.75,318.5"/>
<polygon fill="#cc0033" stroke="#cc0033" stroke-width="0.6" points="237.25,331.25 241,327.5 244,330.5 249.25,332.75 250.75,338 248.5,344 251.2,350 251.8,357.5 249.7,363.5 248.5,369.5 245.5,368 241,365.75 235,366.5 232,360.5 233.5,357.5 230.5,351.5 226,349.25 224.5,344 229,342.5 235,340.25 238.75,336.5"/>
<polygon fill="#cc0033" stroke="#cc0033" stroke-width="0.6" points="163.75,365 168.25,360.5 169.75,355.25 175,355.25 178,359 182.5,365 184,369.5 190,368 193,371.75 191.5,375.5 187,377 181,380 175,384.5 172,389 168.25,387.5 166,381.5 165.25,374 163,369.5"/>
<polygon fill="#cc0033" stroke="#cc0033" stroke-width="0.6" points="147.25,371 151,371.75 154,375.5 149.5,378.5 146.5,381.5 148,384.5 152.5,387.5 157.75,389.75 160,393.5 161.5,401 148.75,401 149.5,395 145.75,389 145,383 146.5,377"/>
<polygon fill="#990033" points="0,355 130,355 130,449.25 0,449.25"/>
<polygon fill="#990033" points="50,435 180,435 180,529.25 50,529.25"/>
<polygon fill="#cc0033" stroke="#cc0033" stroke-width="0.6" points="139.38,442.31 147.5,439.88 155.62,442.31 162.12,441.5 160.5,447.19 157.25,452.06 154,455.31 149.12,456.12 146.69,459.38 143.44,454.5 139.38,449.62"/>
<polygon fill="#cc0033" stroke="#cc0033" stroke-width="0.6" points="128.81,492.69 131.25,487.81 137.75,488.62 147.5,491.06 152.38,491.88 151.56,495.94 157.25,497.56 158.06,501.62 163.75,506.5 170.25,513 171.88,515.44 165.38,517.88 162.12,522.75 158.88,528.92 147.5,528.92 143.44,522.75 142.62,513 140.19,508.94 136.12,507.31 131.25,503.25 128,498.38"/>
<polygon fill="#cc0033" stroke="#cc0033" stroke-width="0.6" points="149.94,475.62 151.56,473.19 157.25,475.62 163.75,478.06 171.06,479.69 173.5,485.38 171.88,491.88 167.81,495.94 166.19,501.62 162.12,502.44 158.06,501.62 157.25,497.56 151.56,495.94 152.38,491.88 147.5,491.06 149.12,483.75"/>
<polygon fill="#cc0033" stroke="#cc0033" stroke-width="0.6" points="171.06,479.69 180,477.25 180,504.88 173.5,503.25 167.81,500 167.81,495.94 171.88,491.88 173.5,485.38"/>
<polygon fill="#990033" points="130,401 250,401 250,488 130,488"/>
<polygon fill="#cc0033" stroke="#cc0033" stroke-width="0.6" points="197.5,416 199,410 202,409.25 205,412.25 214,413 220,410.75 226,413 230.5,415.25 233.5,419 238,422 244,420.5 250,423.5 250,440 247,440 241,436.25 236.5,433.25 232.75,434 228.25,430.25 224.5,433.25 223,437.75 224.5,442.25 220,443.75 214,443.75 211.75,445.25 208,443 204.25,440 202.75,434 199,430.25 197.5,423.5"/>
<polygon fill="#cc0033" stroke="#cc0033" stroke-width="0.6" points="239.5,452.75 247,452 250,452 250,488 233.5,488 235,479 235.75,473 241,470.75 239.5,464 240.25,458"/>
<polygon fill="#ff6600" stroke="#ff6600" stroke-width="0.6" points="211.75,445.25 214,443.75 220,443.75 224.5,442.25 223,437.75 224.5,433.25 228.25,430.25 232.75,434 236.5,433.25 241,436.25 247,440 247.75,442.25 244,446.75 238.75,452.75 239.5,458 238.75,464 241,470.75 235.75,473 232,470 227.5,469.25 223,467 221.5,463.25 216.25,464 212.5,461 213.25,452"/>
<polygon fill="#cc0033" stroke="#cc0033" stroke-width="0.6" points="139,443.75 145,441.5 148.75,439.25 152.5,441.5 161.5,441.5 160.75,446 157,449 158.5,452 154.75,455 149.5,456.5 146.5,460.25 144.25,458 142,453.5 139,450.5"/>
<polygon fill="#cc0033" stroke="#cc0033" stroke-width="0.6" points="148,431 152.5,429.5 157,433.25 156.25,436.25 151.75,437 148.75,434"/>
<polygon fill="#cc0033" stroke="#cc0033" stroke-width="0.6" points="149.5,479 152.5,474.5 160,477.5 169,478.25 171.25,482 179.5,477.5 187,472.25 193,473 199,476 203.5,479 206.5,482.75 202,485 194.5,483.5 190,486.5 187,488 148.75,488"/>
<polygon fill="#cc0033" stroke="#cc0033" stroke-width="0.6" points="130,482 133,480.5 133,488 130,488"/>
<polygon fill="#990033" points="250,348 370,348 370,435 250,435"/>
<polygon fill="#ff6600" stroke="#ff6600" stroke-width="0.6" points="295,348 303.25,348 301.75,352.5 299.5,357.75 298,351.75"/>
<polygon fill="#cc0033" stroke="#cc0033" stroke-width="0.6" points="277.75,362.25 282.25,358.5 289.75,354 292.75,354.75 295,360 298.75,363 301.75,366 305.5,370.5 309.25,371.25 310.75,375 310,380.25 307.75,383.25 306.25,387.75 301,385.5 295,384.75 293.5,381.75 290.5,384.75 284.5,384 279.25,382.5 277.75,378 278.5,374.25 280.75,372 279.25,367.5"/>
<polygon fill="#ff6600" stroke="#ff6600" stroke-width="0.6" points="269.5,385.5 272.5,383.25 279.25,382.5 284.5,384 290.5,384.75 293.5,381.75 295,384.75 301,385.5 306.25,387.75 310,391.5 312.25,397.5 313.75,402 307.75,402.75 302.5,405.75 298.75,402 295,399.75 292,402 286.75,399 282.25,396.75 274,396.75 269.5,398.25 268.75,391.5"/>
<polygon fill="#cc0033" stroke="#cc0033" stroke-width="0.6" points="289.75,393 292.75,391.5 295,393.75 292.75,398.25 290.5,396"/>
<polygon fill="#cc0033" stroke="#cc0033" stroke-width="0.6" points="250,360 252.25,359.25 253,364.5 250,369"/>
<polygon fill="#cc0033" stroke="#cc0033" stroke-width="0.6" points="250,424.5 259,423.75 269.5,423 277,421.5 283.75,426 286.75,432 295,429.75 301,432 301.75,435 250,435"/>
<polygon fill="#cc0033" stroke="#cc0033" stroke-width="0.6" points="275.5,409.5 279.25,407.25 282.25,408.75 281.5,411.75 277,412.5"/>
<polygon fill="#990033" points="260,435 380,435 380,522 260,522"/>
<polygon fill="#cc0033" stroke="#cc0033" stroke-width="0.6" points="272,439.5 275,435 306.5,435 308.75,441 309.5,447 305.75,450 301.25,453 297.5,456 293.75,459 292.25,453 290,448.5 285.5,446.25 281,441.75 276.5,442.5"/>
<polygon fill="#990033" stroke="#990033" stroke-width="0.6" points="288.5,441 293.75,438.75 296,442.5 293,445.5 289.25,444"/>
<polygon fill="#cc0033" stroke="#cc0033" stroke-width="0.6" points="283.25,467.25 287,462.75 292.25,460.5 293.75,459 299,461.25 304.25,462.75 306.5,467.25 305.75,472.5 309.5,474.75 312.5,475.5 311.75,480 311,484.5 307.25,489.75 303.5,491.25 299.75,489 296,485.25 290,484.5 288.5,481.5 286.25,475.5 283.25,471.75"/>
<polygon fill="#cc0033" stroke="#cc0033" stroke-width="0.6" points="264.5,486 267.5,481.5 274.25,473.25 279.5,471.75 283.25,471.75 286.25,475.5 288.5,481.5 284.75,484.5 279.5,487.5 277.25,492 276.5,496.5 272,495.75 268.25,494.25 266,490.5"/>
<polygon fill="#cc0033" stroke="#cc0033" stroke-width="0.6" points="312.5,480 317,477.75 320,479.25 324.5,474.75 327.5,471.75 335,471 338,473.25 341.75,478.5 343.25,483 341.75,487.5 345.5,493.5 340.25,496.5 333.5,498.75 330.5,495 328.25,492.75 323,491.25 317.75,490.5 316.25,486.75 311.75,484.5"/>
<polygon fill="#cc0033" stroke="#cc0033" stroke-width="0.6" points="317.75,490.5 323,491.25 328.25,492.75 330.5,495 333.5,498.75 330.5,502.5 326,507 324.5,508.5 327.5,511.5 331.25,516 333.5,522 305,522 306.5,514.5 305.75,510 310.25,508.5 314.75,505.5 317,501 317,495"/>
<polygon fill="#cc0033" stroke="#cc0033" stroke-width="0.6" points="351.5,470.25 356,469.5 362,470.25 359,474 355.25,473.25"/>
<polygon fill="#990033" points="55,525 152,525 152,565 55,565"/>
<polygon fill="#990033" points="150,488 270,488 270,575 150,575"/>
<polygon fill="#cc0033" stroke="#cc0033" stroke-width="0.6" points="150,488 216,488 218.25,491.75 217.5,497 219,503 216,501.5 210,503.75 204.75,502.25 201.75,506 199.5,510.5 197.25,509.75 195,506.75 193.5,503 190.5,499.25 186.75,497 181.5,499.25 177.75,503.75 172.5,503 165.75,503 159,500.75 156.75,503 158.25,507.5 163.5,510.5 169.5,513.5 171.75,517.25 166.5,518.75 162,522.5 161.25,528.5 156,527 150,527.75"/>
<polygon fill="#cc0033" stroke="#cc0033" stroke-width="0.6" points="236.25,488 249,488 247.5,492.5 244.5,497.75 241.5,501.5 238.5,499.25 236.25,494"/>
<polygon fill="#cc0033" stroke="#cc0033" stroke-width="0.6" points="270,510.5 265.5,512.75 261.75,519.5 258,523.25 256.5,527.75 261,534.5 257.25,539.75 254.25,545 256.5,549.5 261,553.25 270,553.25"/>
<polygon fill="#cc0033" stroke="#cc0033" stroke-width="0.6" points="219,526.25 223.5,523.25 223.5,528.5"/>
<polygon fill="#990033" points="20,230 129.95,230 129.95,317 20,317"/>
<polygon fill="#ff6600" stroke="#ff6600" stroke-width="0.6" points="59.75,233.75 59,230 129.95,230 129.95,263.3 128,262.25 122.75,259.25 123.5,254 126.5,250.25 122.75,245 116,246.5 108.5,245.75 98.75,248.75 98,245.75 87.5,244.25 83,245.75 77.75,243.5 75.5,244.25 74.75,248.75 75.5,254 71,256.25 69.5,263 65,265.25 60.5,266 59,260.75 55.25,258.5 50.75,259.25 46.25,264.5 45.5,269 39.5,270.5 41,272.75 36.5,276.5 30.5,279.5 28.25,287.75 23.75,285.5 22.25,281 20,282.5 20,268.25 31.25,264.5 29,254 23.75,248 26.75,244.25 32,241.25 33.5,236.75 39.5,237.5 51.5,238.25"/>
<polygon fill="#ff9900" stroke="#ff9900" stroke-width="0.6" points="20,230 59,230 59.75,233.75 51.5,238.25 39.5,237.5 33.5,236.75 32,241.25 26.75,244.25 23.75,248 29,254 31.25,264.5 20,268.25"/>
<polygon fill="#ff9900" stroke="#ff9900" stroke-width="0.6" points="20,282.5 22.25,281 23.75,285.5 28.25,287.75 32,290.75 20,293"/>
<polygon fill="#cc0033" stroke="#cc0033" stroke-width="0.6" points="87.5,244.25 98,245.75 98.75,248.75 108.5,245.75 116,246.5 122.75,245 126.5,250.25 123.5,254 122.75,259.25 128,262.25 125,264.5 117.5,269 113,267.5 105.5,265.25 98,266 94.25,262.25 93.5,254.75 90.5,252.5 86.75,251"/>
<polygon fill="#cc0033" stroke="#cc0033" stroke-width="0.6" points="71.75,256.25 75.5,254 80,253.25 83.75,255.5 81.5,260 77.75,264.5 74.75,263.75 72.5,260"/>
<polygon fill="#cc0033" stroke="#cc0033" stroke-width="0.6" points="83,264.5 88.25,261.5 94.25,262.25 95.75,267.5 96.5,275 97.25,281 93.5,285.5 90.5,290.75 84.5,290 78.5,287.75 74,283.25 74.75,278 80,275 83,270.5"/>
<polygon fill="#cc0033" stroke="#cc0033" stroke-width="0.6" points="28.25,287.75 30.5,279.5 36.5,276.5 41,272.75 45.5,269 46.25,264.5 50.75,259.25 52.25,263.75 50,268.25 54.5,269.75 60.5,267.5 62,273.5 68,276.5 69.5,280.25 66.5,284 59.75,284.75 56,281.75 53,287 47.75,289.25 42.5,290 36.5,291.5 32,290.75"/>
<polygon fill="#cc0033" stroke="#cc0033" stroke-width="0.6" points="129.95,271.55 128,272 125.75,275 126.5,278 129.95,278.45"/>
<polygon fill="#cc0033" stroke="#cc0033" stroke-width="0.6" points="129.95,288.8 123.5,290 122.75,296 128,300.5 129.95,300.65"/>
<polygon fill="#cc0033" stroke="#cc0033" stroke-width="0.6" points="54.5,312.5 59,311.75 61.25,317 53.75,317"/>
<polygon fill="#990033" points="120,280 180,280 180,308.05 240,308.05 240,367 120,367"/>
<polygon fill="#cc0033" stroke="#cc0033" stroke-width="0.6" points="123,291.25 126,289.75 133.5,287.5 134.25,280 198,280 196.5,284.5 199.5,289 201.75,295 207,296.5 210,293.5 213,295 217.5,292.75 225,295 231,296.5 231.75,300.25 228,304.75 227.25,310 228,314.5 225.75,318.25 223.5,319.75 218.25,316.75 216,312.25 213,310 208.5,312.25 204,316 200.25,319.75 199.5,325 195,325.75 192,323.5 187.5,322.75 188.25,317.5 190.5,313 193.5,308.5 192.75,301 190.5,295.75 186,293.5 180,292.75 175.5,294.25 171,298.75 168.75,304.75 168,310 165,312.25 151.5,309.25 149.25,304.75 142.5,301 135,300.25 126,300.25 122.25,299.5"/>
<polygon fill="#ff9900" stroke="#ff9900" stroke-width="0.6" points="195,325.75 199.5,325 200.25,319.75 204,316 208.5,312.25 213,310 216,312.25 218.25,316.75 223.5,319.75 225,323.5 217.5,328 218.25,332.5 216,339.25 213,341.5 210,338.5 205.5,334 201,331.75 196.5,331 194.25,329.5"/>
<polygon fill="#ff6600" stroke="#ff6600" stroke-width="0.6" points="231,296.5 240,292 240,332.5 235.5,331 230.25,328 228,323.5 225,323.5 223.5,319.75 225.75,318.25 228,314.5 227.25,310 228,304.75 231.75,300.25"/>
<polygon fill="#ff6600" stroke="#ff6600" stroke-width="0.6" points="213,341.5 216,339.25 218.25,332.5 217.5,328 225,323.5 228,323.5 230.25,328 235.5,331 238.5,335.5 237,340 231,342.25 225,344.5 226.5,349.75 230.25,352 225,353.5 223.5,355 220.5,354.25 219.75,346.75 216,344.5"/>
<polygon fill="#cc0033" stroke="#cc0033" stroke-width="0.6" points="168.75,356.5 171.75,354.25 177,355 180,359.5 183,367 168,367"/>
<polygon fill="#cc0033" stroke="#cc0033" stroke-width="0.6" points="225,344.5 231,342.25 237,340 240,340.75 240,367 228,367 231,361 230.25,352 226.5,349.75"/>
<polygon fill="#990033" stroke="#990033" stroke-width="0.6" points="198,280 240,280 240,292 231,296.5 225,295 217.5,292.75 213,295 210,293.5 207,296.5 201.75,295 199.5,289 196.5,284.5"/>
<polygon fill="#990033" stroke="#990033" stroke-width="0.6" points="120,280 134.25,280 133.5,287.5 126,289.75 123,291.25 120,292"/>
<polygon fill="#cc0033" points="220,195 280,195 280,252.2 220,252.2"/>
<polygon fill="#ff6600" stroke="#ff6600" stroke-width="0.6" points="237.94,195 272.71,195 271.03,199.49 268.79,203.97 268.22,209.58 264.86,210.7 261.5,212.94 260.37,215.75 257.01,215.19 253.64,214.07 250.28,211.82 245.79,210.7 241.31,209.02 238.5,206.21 236.82,202.85 238.5,199.49"/>
<polygon fill="#ff6600" stroke="#ff6600" stroke-width="0.6" points="220,195 230.65,195 230.09,198.36 226.73,198.93 223.36,200.05 220,198.36"/>
<polygon fill="#ff6600" stroke="#ff6600" stroke-width="0.6" points="220,203.97 223.93,203.97 225.61,207.34 230.09,211.26 231.21,214.07 228.41,217.99 227.29,220.23 223.36,221.36 220,222.48"/>
<polygon fill="#ff6600" stroke="#ff6600" stroke-width="0.6" points="220,223.04 223.36,221.92 231.21,221.36 236.82,221.36 241.31,223.04 243.55,225.84 244.11,228.64 246.36,231.45 249.16,232.01 246.92,233.69 242.43,235.37 239.07,237.06 235.7,237.06 234.02,233.13 231.21,231.45 225.61,230.89 220,230.33"/>
<polygon fill="#ff6600" stroke="#ff6600" stroke-width="0.6" points="239.07,237.06 242.43,235.37 246.92,233.69 249.16,232.01 251.4,232.57 250.84,236.5 248.04,238.74 250.28,241.54 250.84,244.35 248.6,247.15 247.48,249.95 245.23,253.32 242.43,255.56 237.94,253.32 234.58,252.2 235.7,248.83 237.38,245.47 237.94,240.98 237.94,238.74"/>
<polygon fill="#ff6600" stroke="#ff6600" stroke-width="0.6" points="262.62,240.42 264.3,238.18 265.98,237.06 267.1,233.69 272.71,233.13 275.51,235.93 276.07,242.1 274.95,246.59 272.71,249.95 268.22,250.51 264.86,247.71 263.18,244.35"/>
<polygon fill="#ff6600" stroke="#ff6600" stroke-width="0.6" points="247.48,249.95 250.28,250.51 253.64,247.15 255.89,244.91 258.69,245.47 262.06,247.15 264.86,247.71 268.22,250.51 269.91,253.32 244.11,253.32 246.36,252.2 248.04,251.64"/>
<polygon fill="#ff6600" stroke="#ff6600" stroke-width="0.6" points="260.37,215.75 261.5,212.94 264.86,210.7 268.22,209.58 268.79,214.07 269.91,217.99 267.1,220.23 264.3,221.92 263.18,219.11"/>
<polygon fill="#ff6600" stroke="#ff6600" stroke-width="0.6" points="276.07,217.43 280,215.19 280,229.77 277.2,227.52 274.95,223.04 274.39,220.23"/>
<polygon fill="#990033" stroke="#990033" stroke-width="0.6" points="252.52,226.96 255.89,224.72 258.69,227.52 263.18,228.08 262.62,233.13 264.86,233.69 265.98,237.06 264.3,238.18 262.62,240.42 263.18,244.35 262.06,247.15 258.69,245.47 255.89,244.91 253.64,247.15 250.28,250.51 247.48,249.95 248.6,247.15 250.84,244.35 250.28,241.54 248.04,238.74 250.84,236.5 251.4,232.57 251.96,228.64"/>
<polygon fill="#cc0033" stroke="#cc0033" stroke-width="0.6" points="256.75,523 262,519.25 266.5,520 271.75,522.25 272.5,530.5 274,541 271,545.5 269.5,550.75 265,552.25 260.5,553 257.5,550 253.75,545.5 255.25,541 260.5,535.75 257.5,529.75"/>
<polygon fill="#cc0033" stroke="#cc0033" stroke-width="0.6" points="306.25,508 316,504.25 316.75,497.5 317.5,493 331,493 334,497.5 329.5,502.75 325,507.25 328,511 331.75,516.25 331.75,522.25 326.5,524.5 326.5,529 331,532.75 326.5,537.25 319.75,539.5 315.25,541.75 311.5,538.75 306.25,537.25 309.25,530.5 310.75,520 307,517"/>
<polygon fill="#cc0033" stroke="#cc0033" stroke-width="0.6" points="331,493 346,493 340,496 335.5,499"/>
<polygon fill="#cc0033" stroke="#cc0033" stroke-width="0.6" points="249,452 256,456 258,470 257,490 254,500 249,500"/>
<polygon fill="#990033" stroke="#990033" stroke-width="0.6" points="332.5,232 337,232 337,247 331,247"/>
<path shape-rendering="crispEdges" fill="#ffcc33" d="M325 74h2v1h-2z"/>
<path shape-rendering="crispEdges" fill="#ff9900" d="M377 98h1v1h-1zM377 99h1v1h-1zM378 101h1v1h-1zM378 102h1v1h-1zM378 103h1v1h-1zM378 104h1v1h-1zM107 105h1v1h-1zM106 113h1v1h-1zM382 118h1v1h-1zM68 141h1v1h-1zM68 142h1v1h-1zM250 144h1v1h-1zM252 145h1v1h-1zM255 146h1v1h-1zM350 147h1v1h-1zM300 165h4v1h-4zM299 166h6v1h-6zM302 167h4v1h-4zM307 168h1v1h-1zM402 208h1v1h-1zM402 209h1v1h-1zM402 210h1v1h-1zM403 211h1v1h-1zM399 233h2v1h-2zM97 101h1v1h-1zM97 102h1v1h-1z"/>
<path shape-rendering="crispEdges" fill="#cc0033" d="M397 288h1v1h-1zM94 262h1v1h-1zM318 338h2v1h-2zM334 498h1v1h-1zM333 499h1v1h-1zM332 500h1v1h-1zM331 501h1v1h-1zM330 502h1v1h-1zM332 518h1v1h-1zM323 538h1v1h-1zM320 539h2v1h-2zM318 540h2v1h-2zM316 541h2v1h-2z"/>
<path shape-rendering="crispEdges" fill="#990033" d="M71 120h1v1h-1zM65 121h4v1h-4zM62 122h5v1h-5zM61 123h2v1h-2zM72 122h1v1h-1zM279 407h1v1h-1zM277 408h5v1h-5zM275 409h7v1h-7zM276 410h6v1h-6zM277 411h5v1h-5zM223 523h1v1h-1zM222 524h2v1h-2zM220 525h4v1h-4zM220 526h4v1h-4zM222 527h2v1h-2z"/>
<path shape-rendering="crispEdges" fill="#ff6600" d="M220 222h2v1h-2zM164 233h1v1h-1zM263 245h1v1h-1zM262 246h2v1h-2zM264 247h1v1h-1zM247 250h1v1h-1zM246 251h2v1h-2zM214 259h1v1h-1zM214 268h1v1h-1zM291 392h3v1h-3zM290 393h5v1h-5zM290 394h5v1h-5zM290 395h4v1h-4zM291 396h3v1h-3zM292 397h1v1h-1zM44 269h1v1h-1zM40 270h4v1h-4zM40 271h2v1h-2zM297 322h1v1h-1zM295 323h1v1h-1zM293 324h2v1h-2zM292 325h1v1h-1zM236 331h1v1h-1zM236 332h4v1h-4zM237 333h3v1h-3zM238 334h2v1h-2zM238 335h2v1h-2zM238 336h2v1h-2zM238 337h2v1h-2zM237 338h3v1h-3zM237 339h3v1h-3zM239 340h1v1h-1zM310 341h1v1h-1zM309 342h1v1h-1zM308 343h1v1h-1zM307 344h1v1h-1zM306 345h1v1h-1zM305 346h2v1h-2zM304 347h2v1h-2zM303 348h3v1h-3zM303 349h2v1h-2zM302 350h3v1h-3zM302 351h2v1h-2zM302 352h2v1h-2zM301 353h2v1h-2zM301 354h1v1h-1zM300 355h1v1h-1z"/>
<polygon fill="#cc0033" points="45.5,105 50,104.25 52.25,105 49.25,107.25 47,106.5"/>
<polygon fill="#cc0033" points="90.5,93.3 95.75,93.6 95.75,94.8 90.5,94.5"/>
<polygon fill="#ff6600" points="124.25,1.5 125.75,2.25 122.75,6.75 121.7,10.5 124.25,13.8 126.8,14.7 123.8,15.75 121.25,14.25 119.75,12 120.5,8.25 122,4.5"/>
<polygon fill="#ff6600" points="123.5,24.75 125.75,23.25 131,24 131.75,27 128.75,28.5 125,27.75"/>
<polygon fill="#ff6600" points="119.3,29.25 121.25,30 122.75,33 121.25,33.3 119.75,31.5"/>
<polygon fill="#ff6600" points="131.75,39.75 134.75,38.25 136.7,39.3 134.75,42 132.5,41.7"/>
<polygon fill="#ff6600" points="140.75,42 143.75,40.2 146.75,41.25 145.25,44.25 142.25,45"/>
<polygon fill="#ff6600" points="128.75,31.8 134,30.45 134.3,31.5 129.5,33"/>
<polygon fill="#ff6600" points="127.25,36 130.25,36.3 130.25,37.2 127.25,36.9"/>
<polygon fill="#ff6600" points="234.5,42.5 236.75,40.25 241.25,40.25 244.25,43.25 246.5,47 247.25,49.25 242.75,48.5 239,46.25 236.75,47 234.5,45.5"/>
<polygon fill="#ffcc33" points="328.09,30.16 330.85,26.71 335.67,25.33 337.74,26.02 337.05,28.78 334.98,30.85 335.67,34.29 339.11,35.67 342.56,32.91 347.38,32.22 348.07,36.36 346,39.8 343.25,41.87 344.63,46 349.45,48.07 351.52,50.83 350.14,53.58 348.76,52.2 348.76,50.14 344.63,48.76 340.49,50.14 337.74,53.58 335.67,56.34 337.05,59.09 335.67,59.78 333.6,57.72 329.47,56.34 326.71,55.65 324.65,52.89 325.33,49.45 328.78,47.38 326.71,44.63 324.65,46 323.96,42.56 325.33,37.74 327.4,35.67 328.78,32.91"/>
<polygon fill="#ff6600" points="354,62.54 355.93,63.23 359.09,68.74 362.54,69.43 365.98,72.87 373.56,79.07 372.87,82.52 368.74,83.21 363.23,83.9 359.37,85.55 357.99,83.9 360.75,81.42 359.37,77.97 357.03,75.63 355.79,71.5 354.96,67.36"/>
<path fill="none" stroke="#a3aaaa" stroke-width="1" shape-rendering="crispEdges" d="M0 0m154 28.5h2m18 12h7m153 1h3m-4 1h2m1 0h2m-1 1h2m-155 3h2m2 0h2m143 0h2m-149 1h2m146 0h4m-192 4h5m0 1h2m0 1h3m-11 4h2m8 0h2m-10 1h2m4 0h2m2 0h2m59 0h3m-72 1h4m7 1h9m117 4h2m42 2h2m-177 1h2m133 0h2m-138 1h5m30 0h2m-34 3h2m42 0h7m-55 1h5m8 0h7m13 0h3m2 0h2m5 0h3m7 0h3m-38 1h2m16 0h3m1 0h3m13 0h2m112 0h7m-157 1h3m145 0h2m-147 1h4m137 0h4m-141 1h3m4 0h2m123 0h5m-9 1h4m-25 4h4m-7 1h3m10 0h2m-40 1h2m-8 1h3m44 0h2m-46 1h2m44 0h2m-159 1h2m8 0h3m50 0h5m65 0h3m23 0h2m-130 1h2m26 0h4m3 0h2m51 0h2m10 0h2m28 0h2m-134 1h2m32 0h3m62 0h3m-119 1h4m71 0h5m119 0h3m-204 1h2m23 0h2m49 0h2m3 0h2m30 0h5m-122 1h2m77 0h2m23 0h2m-104 1h2m118 0h2m-81 1h6m18 0h2m32 0h2m21 0h2m-62 1h3m12 0h2m17 0h3m-39 1h2m22 0h2m-28 1h2m19 0h2m2 0h2m-29 1h2m6 0h2m14 0h3m97 0h3m-129 1h2m52 0h4m71 0h2m-118 1h2m38 0h2m2 0h2m72 0h4m-158 1h7m68 0h2m35 0h2m44 0h2m3 0h2m-270 1h3m216 0h7m39 0h3m2 0h2m-225 2h3m61 0h2m67 0h2m-132 1h6m71 0h2m120 0h3m-227 1h2m49 0h2m51 0h2m50 0h2m3 0h2m-115 1h3m73 0h10m6 0h7m10 0h5m41 0h16m2 0h3m-178 1h2m19 0h2m65 0h6m47 0h2m30 0h2m-152 1h2m32 0h2m80 0h2m-209 1h4m118 0h3m163 0h3m-294 1h3m189 0h2m101 1h2m-47 1h2m45 0h2m-155 1h2m76 1h4m43 0h2m-263 1h3m163 0h2m14 0h3m28 0h2m2 0h2m-222 1h3m132 0h2m34 0h2m42 0h2m-179 1h2m55 0h4m116 0h2m44 0h2m15 0h2m-181 1h2m49 0h2m51 0h2m11 0h2m2 0h2m47 0h9m-177 1h2m4 0h2m39 0h2m67 0h3m44 0h2m-234 1h2m75 0h2m9 0h2m144 0h2m-177 1h2m11 0h2m5 0h2m9 0h2m-114 1h3m42 0h2m56 0h3m8 0h3m66 0h8m-148 1h2m61 0h3m3 0h3m2 0h5m126 0h2m-269 1h2m18 0h2m71 0h2m33 0h3m3 0h2m55 0h2m-197 1h4m89 0h4m2 0h2m91 0h3m-162 1h6m92 0h2m-105 1h5m6 0h3m19 0h2m205 0h2m-211 1h2m18 0h3m180 0h6m-211 1h2m14 0h6m-48 1h4m18 0h4m34 0h2m132 0h11m-202 1h2m48 0h7m-56 1h2m155 0h3m13 0h2m60 0h2m-121 1h2m36 0h3m45 0h2m9 0h2m-147 1h2m48 0h2m88 0h5m1 0h2m-146 1h2m48 0h3m82 0h3m4 0h2m2 0h2m-238 1h4m16 0h2m70 0h3m48 0h2m93 0h2m-236 1h4m9 0h4m25 0h3m46 0h5m-92 1h3m89 0h2m8 0h2m34 0h3m4 0h3m85 0h2m-214 1h3m18 0h4m32 0h5m11 0h2m17 0h2m26 0h4m3 0h5m8 0h2m72 0h4m-235 1h2m18 0h2m20 0h2m48 0h2m13 0h2m46 0h2m77 0h2m15 0h2m-285 1h5m71 0h5m30 0h2m13 0h2m5 0h6m20 0h2m22 0h4m-182 1h3m118 0h7m48 0h2m-175 1h3m100 0h2m174 0h2m-107 1h2m-172 1h3m91 0h5m13 0h2m58 0h3m-172 1h2m101 0h3m66 0h4m81 0h2m19 0h2m-283 1h4m105 0h2m68 0h2m-82 1h6m76 0h2m101 0h2m-159 1h4m48 0h2m2 0h2m-135 1h3m42 0h3m28 0h2m2 0h2m53 0h3m99 0h2m-173 1h2m13 0h2m55 0h2m33 0h2m64 0h2m-199 1h2m47 0h2m-53 1h2m128 0h2m-135 1h3m34 0h2m18 0h2m72 0h2m-74 1h3m26 0h5m-149 1h2m92 0h2m4 0h2m40 0h2m-114 1h2m22 0h2m39 0h6m26 0h10m26 0h4m91 0h4m-213 1h5m69 0h4m10 0h4m29 0h7m-184 1h3m4 0h5m28 0h2m86 0h2m45 0h2m-179 1h2m3 0h4m117 0h4m57 0h2m-191 1h2m15 0h4m-23 1h2m23 0h3m4 0h3m15 0h2m76 0h2m64 0h3m-207 1h7m26 0h2m3 0h4m3 0h2m21 0h2m66 0h2m-145 1h7m47 0h4m12 0h5m58 0h2m-122 1h2m102 0h2m12 0h2m76 0h9m62 0h2m-301 1h2m43 0h5m70 0h4m4 0h8m19 0h2m80 0h3m56 0h3m-297 1h5m6 0h4m27 0h2m71 0h3m4 0h4m19 0h3m90 0h5m-238 1h3m1 0h2m16 0h2m127 0h3m84 0h2m32 0h2m-171 1h7m22 0h4m104 0h2m4 0h5m-9 1h4m-205 1h2m94 0h2m128 0h3m-245 1h4m8 0h5m221 0h4m-272 1h3m21 0h6m4 0h5m14 0h6m31 0h2m165 0h6m17 0h3m-19 2h2m29 0h2m-4 1h2m-142 1h3m135 0h2m-102 1h2m96 0h2m-4 1h2m-183 1h9m79 0h4m-94 1h2m92 0h2m39 1h7m-51 1h2m25 0h3m11 0h3m7 0h2m64 0h5m-7 1h2m-212 1h2m20 0h2m17 0h2m73 0h5m44 0h3m31 0h7m1 0h3m-147 1h4m91 0h2m1 0h2m34 0h2m-219 1h8m100 0h5m1 0h3m45 0h2m11 0h3m37 0h2m-277 1h2m27 0h3m10 0h2m34 0h2m70 0h3m13 0h2m44 0h2m3 0h5m8 0h5m66 0h2m-277 1h3m2 0h2m7 0h2m4 0h2m13 0h2m77 0h6m2 0h2m3 0h2m4 0h7m137 0h2m-310 1h2m26 0h3m6 0h2m1 0h5m19 0h2m14 0h2m4 0h5m52 0h2m8 0h2m5 0h4m50 0h2m30 0h2m62 0h5m-290 1h3m10 0h2m14 0h4m17 0h5m84 0h7m8 0h2m-178 1h2m53 0h5m59 0h2m47 0h2m26 0h2m-129 1h2m80 0h2m17 0h3m37 0h2m-213 1h2m6 0h4m138 0h2m2 0h2m18 0h2m16 0h6m-186 1h2m90 0h5m40 0h2m39 0h2m-195 1h2m110 0h2m135 0h2m-253 1h2m151 0h2m62 0h2m-174 1h2m97 0h2m3 0h4m66 0h2m-199 1h2m2 0h2m71 0h2m17 0h2m26 0h3m76 0h3m-232 1h2m30 0h3m70 0h6m115 0h3m36 0h2m-222 1h2m-53 1h6m-10 1h4m56 0h2m94 0h5m-99 1h3m89 0h2m-91 1h2m85 0h2m8 0h2m106 0h2m-255 1h11m122 0h2m94 0h2m19 0h3m-256 1h3m11 0h2m10 0h2m1 0h2m56 0h2m28 0h6m111 0h2m36 0h4m1 0h6m-198 1h2m78 0h2m69 0h2m-237 1h2m14 0h2m64 0h2m82 0h2m69 0h2m8 0h3m-273 1h2m101 0h2m86 0h4m-153 1h2m47 0h4m100 0h2m33 0h6m31 0h2m42 0h7m-229 1h2m3 0h2m4 0h2m30 0h4m61 0h2m29 0h2m34 0h3m-263 1h2m81 0h2m41 0h2m3 0h2m62 0h2m25 0h2m91 0h2m-315 1h3m8 0h4m38 0h2m4 0h2m18 0h2m10 0h2m37 0h2m63 0h4m127 0h3m-326 1h3m45 0h2m2 0h4m16 0h4m90 0h2m145 0h2m6 0h2m-319 1h3m20 0h2m17 0h2m21 0h3m66 0h2m73 0h2m100 0h6m4 0h3m1 0h2m-302 1h2m2 0h2m8 0h3m20 0h3m41 0h2m8 0h2m-120 1h2m27 0h2m7 0h3m84 0h2m37 0h2m164 0h2m-335 1h3m34 0h4m81 0h3m2 0h2m35 0h3m-43 1h3m32 0h5m3 0h7m162 0h2m-283 1h2m86 0h3m11 0h2m5 0h3m7 0h4m23 0h3m-114 1h2m54 0h3m55 0h3m-123 1h6m22 0h3m-117 1h3m60 0h2m3 0h2m14 0h2m31 0h10m-67 1h3m2 0h3m125 0h2m1 0h2m13 0h5m-122 1h3m6 0h11m22 0h11m5 0h6m-61 1h2m2 0h2m96 0h3m38 0h4m17 0h3m43 0h5m-287 1h2m72 0h2m82 0h2m106 0h2m-268 1h3m73 0h2m57 0h2m-134 1h2m22 0h3m11 0h4m92 0h9m66 0h2m33 0h2m46 0h2m-314 1h3m6 0h7m6 0h2m22 0h2m8 0h2m121 0h4m43 0h3m8 0h4m25 0h2m42 0h2m-350 1h2m39 0h6m21 0h3m15 0h3m117 0h4m29 0h3m9 0h13m3 0h8m4 0h2m-192 1h2m112 0h3m31 0h2m24 0h2m16 0h2m24 0h15m22 0h4m-340 1h3m66 0h3m11 0h2m10 0h2m159 0h2m17 0h7m-287 1h5m17 0h2m37 0h2m6 0h5m28 0h4m-101 1h2m13 0h2m84 0h3m93 0h3m125 0h2m-347 1h4m18 0h13m157 0h2m1 0h2m-198 1h2m2 0h2m119 0h2m1 0h2m47 0h4m95 0h2m59 0h2m3 0h5m-215 1h2m58 0h2m79 0h3m63 0h3m-336 1h2m168 0h2m-4 1h2m-176 1h2m9 0h2m109 0h2m12 0h2m54 0h2m2 0h2m-141 1h6m7 0h2m48 0h2m2 0h3m66 0h4m111 0h6m73 0h2m-387 1h5m56 0h2m2 0h3m2 0h8m59 0h2m97 0h4m-199 1h3m6 0h2m2 0h2m7 0h2m22 0h15m37 0h2m99 0h2m115 0h2m-322 1h4m3 0h6m2 0h2m31 0h2m54 0h3m79 0h4m125 0h5m-276 1h4m59 0h2m20 0h2m59 0h2m4 0h3m44 0h9m14 0h7m-94 1h6m75 0h6m45 0h3m-245 1h4m35 0h4m65 0h2m13 0h3m18 0h4m7 0h4m-167 1h6m6 0h2m2 0h2m33 0h2m11 0h2m48 0h2m-145 1h2m33 0h2m6 0h2m46 0h2m41 0h9m38 0h10m27 0h4m82 0h2m-355 1h6m126 0h2m26 0h3m98 0h6m74 0h12m-341 1h2m21 0h8m30 0h3m61 0h2m24 0h2m33 0h3m57 0h3m-126 1h2m118 0h3m41 0h8m16 0h2m-317 1h3m159 0h3m29 0h2m103 0h2m6 0h5m36 0h3m-369 1h9m168 0h3m34 0h6m16 0h11m71 0h2m10 0h2m-148 1h6m132 0h2m-302 1h6m12 0h2m36 0h2m31 0h5m61 0h3m174 0h4m19 0h3m-328 1h3m39 0h2m13 0h2m5 0h2m112 0h4m26 0h2m39 0h4m43 0h6m21 0h2m3 0h2m-362 1h2m32 0h2m62 0h2m101 0h9m-196 1h2m19 0h2m1 0h6m291 0h3m-341 1h2m17 0h2m18 0h2m39 0h4m4 0h2m65 0h2m173 0h8m-317 1h3m5 0h3m5 0h2m45 0h4m16 0h4m172 0h3m81 0h2m-384 1h4m32 0h3m29 0h2m5 0h3m17 0h2m47 0h2m24 0h2m113 0h4m56 0h2m28 0h2m-345 1h4m29 0h2m3 0h5m3 0h4m85 0h3m62 0h10m8 0h2m17 0h3m17 0h2m52 0h2m13 0h2m16 0h2m3 0h2m-389 1h5m6 0h3m74 0h2m8 0h2m71 0h2m75 0h2m2 0h4m2 0h4m1 0h2m7 0h3m3 0h3m7 0h2m49 0h4m3 0h3m34 0h5m-391 1h3m36 0h2m52 0h4m2 0h2m19 0h2m42 0h3m5 0h2m36 0h5m38 0h2m55 0h2m34 0h3m20 0h2m4 0h6m-363 1h3m11 0h3m1 0h3m58 0h2m5 0h2m12 0h2m27 0h3m11 0h3m39 0h7m161 0h2m-262 1h7m15 0h3m3 0h5m55 0h4m83 0h3m84 0h2m-353 1h3m106 0h2m3 0h3m5 0h2m22 0h2m25 0h4m141 0h7m-325 1h2m13 0h4m67 0h2m19 0h2m182 0h2m-162 1h2m-112 1h2m16 0h2m18 0h5m69 0h2m40 0h2m137 0h2m-293 1h2m39 0h2m69 0h4m59 0h2m42 0h5m16 0h2m34 0h9m-313 1h2m13 0h2m24 0h2m186 0h5m12 0h2m3 0h2m9 0h6m34 0h2m-273 1h2m190 0h6m71 0h2m45 0h2m-352 1h2m11 0h4m76 0h6m139 0h2m-242 1h2m127 0h3m31 0h2m41 0h2m7 0h7m20 0h2m6 0h2m44 0h3m2 0h5m15 0h2m-243 1h2m89 0h3m17 0h15m16 0h4m41 0h2m24 0h3m3 0h2m-318 1h6m67 0h4m5 0h2m107 0h5m72 0h2m12 0h2m51 0h2m-331 1h2m45 0h7m136 0h2m71 0h6m5 0h2m20 0h3m46 0h2m-312 1h2m82 0h2m113 0h3m62 0h2m41 0h3m2 0h2m-312 1h2m3 0h5m26 0h2m105 0h2m15 0h2m102 0h2m78 0h2m13 0h3m-396 1h2m34 0h3m136 0h2m14 0h3m195 0h4m-283 1h4m261 0h2m-374 1h3m42 0h7m40 0h6m164 0h6m84 0h11m-340 1h3m26 0h2m50 0h3m117 0h4m39 0h2m30 0h2m48 0h3m-332 1h3m31 0h3m42 0h5m41 0h2m81 0h2m5 0h4m107 0h3m-346 1h2m10 0h5m37 0h5m159 0h2m7 0h5m4 0h3m12 0h6m42 0h2m11 0h7m3 0h5m-325 1h10m47 0h3m5 0h2m25 0h2m24 0h5m87 0h6m21 0h2m60 0h5m13 0h3m5 0h2m52 0h4m-391 1h5m63 0h5m2 0h3m137 0h3m94 0h2m21 0h2m48 0h2m3 0h2m-395 1h3m144 0h2m9 0h4m34 0h4m51 0h4m20 0h3m7 0h3m52 0h3m15 0h5m24 0h2m-307 1h2m10 0h2m59 0h3m4 0h4m23 0h3m2 0h2m4 0h3m12 0h2m38 0h5m18 0h3m2 0h2m72 0h2m3 0h2m-317 1h2m143 0h2m9 0h4m6 0h2m66 0h2m67 0h2m42 0h2m-361 1h2m130 0h2m8 0h11m19 0h6m17 0h2m116 0h2m37 0h2m-352 1h2m16 0h4m27 0h3m86 0h2m114 0h3m34 0h2m16 0h2m40 0h2m1 0h3m-340 1h2m2 0h2m29 0h2m33 0h2m11 0h4m9 0h2m18 0h5m138 0h6m3 0h4m37 0h2m24 0h3m-398 1h2m15 0h4m125 0h2m56 0h3m43 0h2m65 0h2m5 0h4m4 0h2m-319 1h2m91 0h16m78 0h2m2 0h2m39 0h3m29 0h2m34 0h2m47 0h6m-357 1h2m45 0h5m16 0h5m38 0h5m41 0h2m73 0h2m65 0h3m-235 1h2m3 0h2m42 0h2m114 0h2m13 0h2m37 0h7m-303 1h2m30 0h2m94 0h3m14 0h2m17 0h2m67 0h4m13 0h2m51 0h5m10 0h2m-290 1h2m2 0h2m6 0h3m95 0h2m110 0h2m6 0h2m51 0h5m-282 1h2m103 0h5m57 0h2m-167 1h3m36 0h2m3 0h2m115 0h5m41 0h5m45 0h2m-273 1h5m49 0h5m160 0h2m-227 1h3m205 0h6m121 0h2m-334 1h2m27 0h6m57 0h3m149 0h2m-265 1h3m43 0h2m6 0h2m53 0h2m22 0h5m10 0h4m2 0h2m58 0h5m40 0h4m2 0h5m7 0h6m-227 1h2m80 0h5m9 0h2m37 0h2m20 0h2m3 0h2m10 0h4m14 0h3m19 0h2m3 0h2m6 0h4m15 0h3m-270 1h4m19 0h2m6 0h9m68 0h4m42 0h2m43 0h5m7 0h3m1 0h3m34 0h4m8 0h3m-242 1h2m13 0h2m3 0h9m98 0h2m24 0h2m21 0h2m7 0h2m5 0h2m19 0h3m21 0h2m10 0h2m-249 1h3m12 0h3m9 0h7m130 0h4m77 0h2m5 0h7m-225 1h3m115 0h2m96 0h2m7 0h3m-225 1h6m61 0h4m45 0h6m88 0h3m-277 1h8m18 0h3m181 0h2m18 0h4m-256 1h5m25 0h2m14 0h2m99 0h5m35 0h2m44 0h2m4 0h2m10 0h2m3 0h2m55 0h2m-328 1h3m4 0h6m32 0h2m82 0h2m27 0h2m80 0h2m5 0h5m5 0h2m-212 1h2m4 0h2m29 0h3m58 0h5m53 0h3m123 0h2m-282 1h4m2 0h3m41 0h2m20 0h8m15 0h2m3 0h2m39 0h4m27 0h2m40 0h2m41 0h2m-304 1h2m95 0h2m16 0h2m22 0h2m44 0h2m2 0h2m83 0h2m23 0h3m-277 1h2m72 0h6m60 0h3m92 0h2m2 0h2m6 0h2m-247 1h2m110 0h2m4 0h2m21 0h2m77 0h2m13 0h3m5 0h2m33 0h6m-171 1h2m2 0h2m28 0h2m67 0h4m10 0h3m43 0h2m6 0h2m-297 1h3m13 0h4m87 0h2m16 0h3m27 0h3m23 0h2m114 0h2m-296 1h4m8 0h2m2 0h2m84 0h2m2 0h2m59 0h4m5 0h2m8 0h2m80 0h2m-202 1h2m31 0h2m95 0h2m40 0h8m-133 1h2m72 0h3m-180 1h2m138 0h2m38 0h2m13 0h5m35 0h3m-237 1h5m83 0h2m4 0h2m9 0h2m34 0h4m36 0h2m6 0h2m8 0h3m-113 1h6m22 0h9m19 0h3m35 0h2m6 0h3m51 0h4m-188 1h4m184 0h2m-273 1h2m35 0h3m20 0h2m20 0h2m2 0h2m17 0h2m24 0h3m-100 1h3m3 0h6m41 0h2m11 0h5m29 0h4m-84 1h5m38 0h3m162 0h2m-232 1h2m60 0h3m25 0h3m26 0h2m102 0h7m26 0h4m-285 1h4m7 0h4m8 0h2m28 0h3m55 0h4m3 0h4m24 0h4m95 0h3m-260 1h2m8 0h2m3 0h2m10 0h8m19 0h3m11 0h4m15 0h2m2 0h2m69 0h6m104 0h4m-204 1h2m15 0h3m89 0h2m25 0h3m21 0h2m37 0h2m8 0h3m-275 1h2m63 0h2m107 0h3m19 0h3m26 0h2m39 0h2m-281 1h3m77 0h3m42 0h3m78 0h3m31 0h2m-229 1h2m68 0h2m64 0h3m52 0h2m36 0h2m-249 1h4m20 0h2m101 0h2m5 0h2m20 0h2m48 0h3m40 0h2m29 0h2m-263 1h6m64 0h4m31 0h3m30 0h2m107 0h2m13 0h4m-209 1h3m14 0h2m5 0h2m119 0h2m16 0h4m-148 1h5m152 0h13m4 0h2m-241 1h3m13 0h4m30 0h2m135 0h3m24 0h2m25 0h3m-261 1h2m137 0h2m60 0h3m29 0h2m-233 1h9m27 0h2m1 0h2m74 0h4m19 0h2m2 0h2m5 0h2m5 0h7m56 0h2m12 0h2m-226 1h4m28 0h2m37 0h2m32 0h2m23 0h4m8 0h2m10 0h2m28 0h5m14 0h2m3 0h2m16 0h2m-168 1h2m6 0h3m2 0h2m69 0h2m59 0h3m-173 1h6m55 0h2m84 0h4m-145 1h2m32 0h2m27 0h3m1 0h3m17 0h3m7 0h2m37 0h2m18 0h2m27 0h8m12 0h2m-142 1h3m22 0h2m26 0h5m15 0h2m14 0h2m1 0h2m34 0h7m3 0h2m-202 1h3m28 0h2m80 0h2m35 0h2m3 0h2m-133 1h2m4 0h2m16 0h3m22 0h2m122 0h2m-276 1h5m50 0h2m34 0h4m8 0h5m8 0h2m28 0h2m124 0h2m-179 1h2m21 0h6m20 0h2m7 0h6m27 0h2m-142 1h8m129 1h2m46 0h2m-225 1h2m108 0h3m107 0h4m-200 1h2m24 0h5m58 0h2m56 0h3m-152 1h2m25 0h2m19 0h5m51 0h6m51 0h5m-120 1h2m5 0h2m28 0h5m72 0h2m3 0h2m12 0h2m-198 1h2m59 0h2m9 0h5m121 0h2m17 0h3m-218 1h6m105 0h3m24 0h4m56 0h17m3 0h2m-214 1h2m15 0h7m17 0h2m6 0h3m31 0h3m21 0h2m108 0h4m-224 1h3m15 0h2m7 0h3m9 0h2m2 0h2m66 0h2m43 0h4m11 0h2m4 0h2m8 0h2m29 0h2m3 0h12m28 0h2m1 0h2m-263 1h4m1 0h3m17 0h2m8 0h4m46 0h2m80 0h6m56 0h3m31 0h4m-259 1h4m102 0h3m115 0h2m33 0h2m-284 1h2m4 0h2m47 0h2m1 0h3m71 0h2m42 0h3m-181 1h2m2 0h4m36 0h6m34 0h3m32 0h2m55 0h2m20 0h2m5 0h5m-160 1h2m35 0h2m31 0h4m80 0h2m3 0h2m-159 1h2m35 0h4m44 0h4m19 0h3m40 0h2m38 0h3m-223 1h5m26 0h3m84 0h13m4 0h2m13 0h2m80 0h4m-237 1h2m3 0h2m28 0h2m76 0h2m17 0h4m12 0h3m11 0h11m64 0h3m-241 1h2m56 0h2m84 0h5m-93 1h2m124 0h2m4 0h2m-116 1h2m35 0h2m30 0h2m38 0h2m1 0h3m18 0h2m-59 1h5m30 0h2m-186 1h2m3 0h2m34 0h6m3 0h3m45 0h2m40 0h2m11 0h2m-168 1h7m7 0h4m42 0h3m27 0h2m21 0h4m5 0h2m27 0h2m94 0h11m9 0h2m-178 1h2m98 0h8m59 0h6m-172 1h3m11 0h3m8 0h3m20 0h2m57 0h4m6 0h7m28 0h2m17 0h3m4 0h6m-267 1h2m13 0h6m65 0h2m27 0h2m11 0h3m22 0h2m10 0h3m26 0h6m67 0h2m-256 1h2m62 0h7m4 0h3m10 0h2m1 0h4m9 0h2m35 0h5m3 0h3m42 0h3m59 0h3m-197 1h2m42 0h2m13 0h3m32 0h2m39 0h2m2 0h3m-213 1h2m3 0h3m200 0h2m-208 1h3m177 0h3m28 0h7m-120 1h4m15 0h2m32 0h2m26 0h2m1 0h2m15 0h2m17 0h2m-137 1h4m62 0h2m27 0h2m3 0h2m12 0h2m21 0h2m-198 1h3m55 0h2m63 0h2m20 0h3m-176 1h4m27 0h3m6 0h2m25 0h3m77 0h4m23 0h2m41 0h4m-217 1h3m27 0h2m2 0h2m24 0h3m133 0h2m14 0h2m2 0h2m-215 1h3m26 0h2m23 0h3m80 0h4m12 0h6m16 0h2m2 0h2m27 0h2m4 0h2m-213 1h2m77 0h2m50 0h3m15 0h2m4 0h2m16 0h4m42 0h4m3 0h12m-236 1h2m29 0h2m41 0h4m112 0h4m27 0h3m12 0h2m-264 1h2m26 0h3m38 0h4m20 0h3m133 0h2m-229 1h2m4 0h4m48 0h2m48 0h5m32 0h2m24 0h2m55 0h2m33 0h2m5 0h2m-270 1h4m26 0h2m26 0h2m42 0h5m16 0h13m5 0h2m2 0h4m21 0h2m55 0h5m31 0h2m-205 1h3m7 0h2m22 0h8m34 0h5m30 0h3m1 0h3m87 0h2m17 0h4m-227 1h2m110 0h3m41 0h2m16 0h2m18 0h2m15 0h2m6 0h4m-206 1h2m76 0h6m-140 1h5m9 0h2m158 0h2m7 0h2m2 0h3m-178 1h2m94 0h3m30 0h2m33 0h2m6 0h3m3 0h2m62 0h2m-258 1h2m4 0h2m29 0h2m16 0h4m54 0h2m65 0h6m8 0h2m-190 1h2m27 0h2m21 0h2m-68 1h4m120 0h2m29 0h4m45 0h2m14 0h4m2 0h3m33 0h3m-267 1h2m8 0h2m3 0h2m53 0h5m35 0h3m15 0h6m27 0h5m49 0h7m4 0h2m-230 1h2m11 0h5m5 0h6m81 0h2m3 0h4m49 0h2m14 0h4m23 0h6m23 0h3m-245 1h2m29 0h3m46 0h4m88 0h4m8 0h2m4 0h4m46 0h2m-66 1h8m85 0h5m-79 1h2m71 0h2m3 0h2m11 0h4m-247 1h2m35 0h3m38 0h4m28 0h5m126 0h2m-267 1h4m14 0h2m2 0h2m34 0h3m40 0h2m19 0h4m7 0h2m113 0h2m-255 1h5m20 0h2m111 0h2m119 0h2m-264 1h3m43 0h3m2 0h3m9 0h2m43 0h2m4 0h2m129 0h8m4 0h2m2 0h2m-214 1h2m8 0h4m22 0h3m31 0h9m5 0h2m7 0h6m110 0h3m7 0h3m-195 1h9m3 0h2m11 1h2m6 0h5m78 0h2m3 0h6m80 0h2m-231 1h3m42 0h2m93 0h3m6 0h3m23 0h6m-140 1h4m54 0h2m49 0h3m13 0h9m6 0h2m-144 1h2m112 0h13m7 0h2m27 0h2m3 0h6m-9 1h3m-137 1h4m20 0h3m127 0h4m-168 1h2m7 0h2m2 0h2m17 0h2m127 0h3m-156 1h2m-78 1h2m63 0h2m28 0h4m-101 1h2m50 0h4m7 0h4m138 0h5m16 0h3m-178 1h2m2 0h2m4 0h2m77 0h2m61 0h2m5 0h2m-129 1h2m50 0h2m1 0h2m2 0h2m56 0h3m20 0h2m-175 1h2m27 0h5m49 0h2m-85 1h2m93 0h3m1 0h2m-132 1h4m140 0h24m9 0h5m14 0h4m2 0h2m-200 1h2m17 0h2m7 0h2m3 0h2m94 0h2m65 0h2m-196 1h5m22 0h5m7 0h4m86 0h2m-126 1h2m5 0h4m140 0h2m60 0h3m-214 1h5m204 0h2m3 0h8m-194 1h3m2 0h2m3 0h3m13 0h2m27 0h3m28 0h3m9 0h4m41 0h2m31 0h5m-183 1h2m3 0h2m1 0h4m3 0h3m1 0h5m1 0h3m25 0h4m29 0h2m2 0h2m-95 1h3m12 0h4m20 0h5m10 0h2m77 0h6m-181 1h2m38 0h2m38 0h2m10 0h4m25 0h2m7 0h2m15 0h2m31 0h2m-74 1h2m3 0h8m68 0h2m41 0h3m-187 1h3m59 0h3m17 0h2m3 0h2m46 0h2m6 0h3m21 0h2m14 0h2m1 0h2m-189 1h2m1 0h2m32 0h2m45 0h5m81 0h3m15 0h2m-200 1h2m7 0h2m3 0h2m27 0h5m85 0h3m13 0h2m-142 1h2m64 0h6m51 0h2m60 0h2m2 0h2m-186 1h2m65 0h5m29 0h2m52 0h2m24 0h2m-187 1h5m15 0h2m54 0h2m29 0h2m77 0h2m-231 1h2m59 0h5m40 0h3m12 0h3m116 0h2m-182 1h2m21 0h3m18 0h2m32 0h8m7 0h3m12 0h2m72 0h2m-143 1h3m32 0h2m16 0h5m6 0h4m28 0h2m13 0h4m28 0h2m14 0h4m-213 1h2m27 0h2m17 0h2m25 0h2m6 0h2m11 0h2m46 0h2m-148 1h2m9 0h4m13 0h3m17 0h2m77 0h2m58 0h2m-208 1h2m14 0h3m24 0h4m73 0h3m25 0h3m49 0h6m2 0h2m-169 1h2m148 0h3m25 0h3m-230 1h3m2 0h2m15 0h2m85 0h4m26 0h2m9 0h2m15 0h3m27 0h2m2 0h2m27 0h6m-238 1h2m3 0h2m136 0h2m2 0h5m17 0h2m33 0h2m-208 1h2m28 0h2m10 0h10m21 0h3m71 0h2m24 0h2m32 0h3m-213 1h3m28 0h2m41 0h2m94 0h3m5 0h3m-184 1h3m126 0h3m52 0h4m6 0h2m-158 1h8m52 0h2m28 0h2m1 0h2m37 0h4m14 0h6m48 0h2m-208 1h2m62 0h4m28 0h2m64 0h4m42 0h2m-106 1h6m51 0h2m2 0h2m36 0h2m-146 1h3m30 0h2m66 0h2m4 0h2m4 0h2m27 0h2m-263 1h2m120 0h3m5 0h2m21 0h2m1 0h2m35 0h2m63 0h3m-136 1h2m5 0h2m20 0h3m-154 1h2m122 0h3m4 0h3m66 0h2m50 0h2m-120 1h3m50 0h2m9 0h6m24 0h3m16 0h5m6 0h8m-223 1h2m178 0h2m10 0h5m-148 1h2m48 0h2m38 0h6m30 0h6m7 0h4m11 0h4m-160 1h2m2 0h5m12 0h2m26 0h3m37 0h3m59 0h2m16 0h3m-215 1h2m26 0h2m2 0h3m17 0h3m7 0h2m101 0h2m29 0h2m17 0h2m-215 1h3m5 0h3m17 0h2m8 0h2m13 0h7m37 0h2m27 0h3m24 0h2m10 0h3m35 0h3m-195 1h3m134 0h2m2 0h2m25 0h2m-167 1h2m18 0h3m63 0h2m47 0h4m28 0h2m-207 1h2m14 0h2m22 0h8m32 0h2m19 0h3m22 0h6m3 0h3m58 0h3m-143 1h2m56 0h5m13 0h3m64 0h2m-212 1h2m12 0h3m7 0h2m39 0h2m135 0h4m-217 1h5m27 0h3m14 0h2m23 0h2m39 0h3m3 0h4m-117 1h12m6 0h2m1 0h3m40 0h2m36 0h5m3 0h3m68 0h2m-194 1h2m7 0h2m19 0h2m21 0h2m161 0h2m-120 1h7m3 0h2m80 0h2m-87 1h3m60 0h2m18 0h2m5 0h5m15 0h4m-153 1h3m117 0h2m25 0h2m-147 1h2m24 0h2m30 0h2m1 0h3m69 0h2m-214 1h2m47 0h4m54 0h24m12 0h2m3 0h3m23 0h3m4 0h4m-183 1h6m45 0h4m23 0h2m63 0h3m24 0h2m-178 1h3m23 0h3m32 0h4m155 0h2m3 0h2m-162 1h2m155 0h3m-191 1h2m-5 1h3m45 0h2m36 0h5m92 0h3m-137 1h3m33 0h2m-47 1h3m41 0h2m5 0h2m41 0h4m6 0h2m35 0h2m-92 1h2m67 0h5m-139 1h4m-21 1h2m14 0h2m45 0h3m1 0h3m11 0h2m90 0h4m-175 1h6m7 0h2m43 0h3m12 0h2m3 0h2m41 0h2m-160 1h6m105 0h4m49 0h4m47 0h3m-219 1h2m9 0h2m60 0h4m79 0h2m61 0h2m-222 1h2m37 0h2m16 0h2m19 0h3m49 0h5m7 0h3m77 0h2m-171 1h2m1 0h2m23 0h10m30 0h5m2 0h2m5 0h2m3 0h2m47 0h2m15 0h9m-215 1h2m4 0h2m4 0h2m77 0h4m31 0h2m9 0h3m97 0h9m-245 1h6m7 0h5m168 0h2m46 0h2m-218 1h2m71 0h6m85 0h4m17 0h3m20 0h6m-181 1h2m12 0h9m35 0h2m37 0h5m47 0h3m12 0h2m7 0h2m-215 1h9m33 0h2m19 0h2m76 0h2m43 0h3m13 0h3m1 0h2m3 0h2m-148 1h2m117 0h2m15 0h2m4 0h2m-189 1h2m45 0h2m33 0h4m35 0h2m38 0h3m-146 1h5m26 0h2m67 0h4m21 0h3m-169 1h2m43 0h2m27 0h2m93 0h4m1 0h2m-157 1h2m75 0h2m74 0h2m-114 1h4m88 0h2m50 0h2m4 0h2m-218 1h4m60 0h2m3 0h2m82 0h5m2 0h2m49 0h5m-220 1h4m63 0h2m85 0h3m-159 1h2m56 0h2m109 0h7m57 0h3m-183 1h2m1 0h3m28 0h8m81 0h2m45 0h3m5 0h2m-200 1h2m20 0h2m11 0h2m108 0h4m42 0h7m-200 1h2m36 0h2m2 0h2m9 0h2m1 0h2m-80 1h3m58 0h3m24 0h4m24 0h5m30 0h5m-166 1h2m6 0h2m2 0h2m71 0h2m15 0h5m15 0h4m39 0h2m11 0h2m11 0h11m24 0h4m-223 1h2m54 0h2m17 0h3m12 0h2m21 0h2m29 0h2m97 0h2m-4 1h2m-184 1h4m64 0h3m11 0h2m54 0h6m7 0h2m23 0h6m-236 1h2m28 0h2m14 0h3m45 0h2m29 0h6m3 0h2m67 0h2m-210 1h5m38 0h3m20 0h6m64 0h3m13 0h2m4 0h2m44 0h4m-223 1h2m51 0h5m3 0h4m14 0h2m6 0h3m78 0h6m-172 1h3m126 0h3m48 0h4m-181 1h4m15 0h10m2 0h4m94 0h2m43 0h3m-164 1h6m10 0h2m63 0h2m74 0h4m64 0h5m-151 1h2m10 0h4m7 0h3m12 0h2m12 0h4m89 0h2m-132 1h2m34 0h2m2 0h2m94 0h2m-236 1h2m114 0h2m3 0h2m10 0h2m16 0h2m56 0h2m-117 1h2m9 0h2m11 0h4m89 0h6m17 0h2m-141 1h2m6 0h2m123 0h2m-153 1h2m17 0h3m39 0h2m14 0h2m73 0h6m-160 1h2m31 0h7m-117 1h4m113 0h4m14 0h2m1 0h2m17 0h5m-26 1h3m8 0h3m12 0h3m13 0h5m-61 1h9m34 0h2m15 0h2m-85 1h2m30 0h2m-36 1h2m34 0h2m7 0h3m-10 1h4m30 0h2m-77 1h2m43 0h2m36 0h2m-1 1h2m-1 1h5m-7 6h2m-248.5-271.5v1m0 17v1m2-3v1m0 60v1m0 14v1m1-78v1m0 2v3m0 57v1m1-121v3m0 53v1m0 64v1m1-118v1m0 50v1m0 17v6m1-25v1m0 9v6m0 1v2m1 18v1m0 31v1m0 33v1m1-68v1m0 15v2m0 16v1m0 33v1m1-116v2m0 23v2m0 10v1m0 7v2m0 15v1m0 2v2m0 15v1m1-126v1m0 3v1m0 3v1m0 58v1m0 13v1m0 1v5m0 15v1m0 6v5m1-113v2m0 3v1m0 1v1m0 32v3m0 20v2m0 48v3m0 2v3m0 23v1m1-141v1m0 3v2m0 28v2m0 4v1m0 16v2m0 15v2m0 36v2m0 3v1m1-119v1m0 6v1m0 15v1m0 8v3m0 22v1m0 38v1m0 1v1m0 20v1m0 6v1m1-128v1m0 8v1m0 12v1m0 2v2m0 5v1m0 63v1m0 3v1m0 20v1m0 4v1m1-117v2m0 15v1m0 3v1m0 8v3m0 1v1m0 2v1m0 53v1m0 20v1m1-135v1m0 23v1m0 1v4m0 10v3m0 6v3m0 5v1m0 56v1m0 68v1m1-174v1m0 19v3m0 15v1m0 56v2m0 8v1m0 66v1m1-174v1m0 94v1m0 11v1m0 64v1m1-180v1m0 3v3m0 25v1m0 68v1m0 43v4m1-148v1m0 1v1m0 131v1m0 1v8m0 4v3m1-94v7m0 1v3m0 96v1m1-123v1m0 25v2m0 2v1m0 1v5m0 19v1m0 61v4m1-131v1m0 36v2m0 7v4m0 1v2m0 11v1m0 35v2m0 17v1m1-67v2m0 6v3m0 10v1m0 24v1m0 3v1m0 7v2m0 7v1m1-135v3m0 18v1m0 47v2m0 3v1m0 11v1m0 3v1m0 21v1m0 14v1m1-136v4m0 24v1m0 50v1m0 1v1m0 37v1m1-121v1m0 4v3m0 17v1m0 2v1m0 34v1m0 97v3m1-173v1m0 7v1m0 146v1m0 13v1m0 14v3m1-186v1m0 5v1m0 148v1m0 8v4m0 5v1m0 8v1m0 3v2m1-184v2m0 30v1m0 119v2m0 5v1m0 10v2m0 12v2m1-188v2m0 29v1m0 3v1m0 9v6m0 50v4m0 17v2m0 15v4m0 13v1m0 1v3m0 13v2m1-161v1m0 10v5m0 5v1m0 5v3m0 42v1m0 1v1m0 26v6m0 9v1m0 44v1m1-161v1m0 5v2m0 1v1m0 11v2m0 1v2m0 24v2m0 18v1m0 3v1m0 22v3m0 33v1m0 19v2m0 6v1m1-158v2m0 63v1m0 5v1m0 19v1m0 55v1m1-150v2m0 3v1m0 68v2m0 11v1m0 4v1m1-60v1m0 42v1m0 9v1m0 1v2m1-92v1m0 4v1m0 1v1m0 3v3m0 8v1m0 13v1m0 42v3m0 4v2m0 4v1m1-85v3m0 26v1m0 44v1m0 1v2m1-54v1m0 5v1m0 28v2m0 25v1m0 56v1m0 2v1m1-157v1m0 21v1m0 9v2m0 7v1m0 14v3m0 2v3m0 4v1m0 28v1m0 47v1m1-161v4m0 10v1m0 17v1m0 3v1m0 9v1m0 10v1m0 12v1m0 4v1m0 6v1m0 7v2m0 21v8m0 40v1m0 15v1m1-174v3m0 6v1m0 21v1m0 33v1m0 11v1m0 39v1m0 25v1m0 14v1m0 13v1m0 2v1m1-206v1m0 32v2m0 1v3m0 67v1m0 42v3m0 19v2m0 27v2m0 4v1m1-206v1m0 21v1m0 24v1m0 103v2m0 15v2m0 2v1m0 33v1m1-192v7m0 26v3m0 41v1m0 7v1m0 52v2m0 8v5m0 5v1m0 15v1m0 17v1m1-195v2m0 36v2m0 32v6m0 10v2m0 12v3m0 37v2m0 1v1m0 3v1m0 11v2m0 14v2m0 16v1m0 8v2m1-226v3m0 39v1m0 20v3m0 44v1m0 55v1m0 1v1m0 14v1m0 15v1m0 1v2m0 13v8m1-259v1m0 33v1m0 3v1m0 11v4m0 22v1m0 24v2m0 31v2m0 83v1m0 18v2m1-239v1m0 37v1m0 42v9m0 39v3m0 3v1m0 32v2m0 49v1m1-219v1m0 37v1m0 14v1m0 21v5m0 47v1m0 7v1m0 33v5m0 45v1m1-181v1m0 14v1m0 71v1m0 9v1m0 37v1m0 11v1m0 43v2m1-192v1m0 14v2m0 67v2m0 101v3m1-189v2m0 14v1m0 45v1m0 19v1m0 29v5m0 66v3m0 13v1m1-239v1m0 40v1m0 1v1m0 12v1m0 51v1m0 41v1m0 5v4m0 1v1m0 20v1m0 7v4m0 26v2m0 17v1m1-239v1m0 101v4m0 42v1m0 31v1m0 58v1m1-239v1m0 82v4m0 1v2m0 5v5m0 12v6m0 28v1m0 25v1m0 4v2m1-178v1m0 37v1m0 41v1m0 8v5m0 16v1m0 33v1m0 28v3m1-225v3m0 47v2m0 21v1m0 54v1m0 2v1m0 113v2m1-249v2m0 41v1m0 10v1m0 22v1m0 29v1m0 21v1m0 4v1m0 87v1m0 23v1m1-192v2m0 21v1m0 29v2m0 18v1m0 6v1m0 18v1m0 1v1m0 80v4m1-184v2m0 14v1m0 5v1m0 30v2m0 6v1m0 1v7m0 9v1m0 15v2m0 3v2m0 13v2m1-115v2m0 11v1m0 7v1m0 6v1m0 24v5m0 34v1m0 7v1m0 86v1m0 4v1m1-191v1m0 24v1m0 63v1m0 101v1m0 34v1m0 1v5m0 5v2m0 77v1m1-317v1m0 19v1m0 1v2m0 106v2m0 31v1m0 27v1m0 14v2m0 16v1m0 7v5m0 2v2m0 76v1m1-401v5m0 79v1m0 72v1m0 117v1m0 5v7m0 3v1m0 13v2m0 17v1m0 76v1m0 12v2m1-418v2m0 5v1m0 14v1m0 18v1m0 1v1m0 19v1m0 43v1m0 3v5m0 42v1m0 12v1m0 23v2m0 35v1m0 17v4m0 13v1m0 11v4m0 23v1m0 20v2m0 75v1m0 9v2m0 11v3m1-431v1m0 8v1m0 14v1m0 38v1m0 29v1m0 15v3m0 5v1m0 40v1m0 75v1m0 20v10m0 1v2m0 38v1m0 23v1m0 75v1m0 19v1m0 4v2m1-408v1m0 63v1m0 28v1m0 50v2m0 1v1m0 43v7m0 12v1m0 60v1m0 34v1m0 75v1m0 12v1m0 4v1m0 7v1m1-416v7m0 94v2m0 31v1m0 1v3m0 5v7m0 4v1m0 38v2m0 1v1m0 7v2m0 24v1m0 82v2m0 74v1m0 12v4m0 9v2m1-419v1m0 28v1m0 44v1m0 29v1m0 31v1m0 20v1m0 50v1m0 13v10m0 15v1m0 66v1m0 2v3m0 49v1m0 13v1m0 8v1m0 23v1m0 7v3m1-428v1m0 30v2m0 27v10m0 1v3m0 32v2m0 4v1m0 46v1m0 34v1m0 15v2m0 9v2m0 91v1m0 79v1m0 21v1m0 7v1m1-426v1m0 24v4m0 5v1m0 24v2m0 48v2m0 50v1m0 25v7m0 19v1m0 6v1m0 67v1m0 6v2m0 17v1m0 81v1m0 27v1m1-404v4m0 10v1m0 22v1m0 13v1m0 10v4m0 41v5m0 29v1m0 21v3m0 27v2m0 3v1m0 17v1m0 48v2m0 6v1m0 2v1m0 15v1m0 92v3m0 14v1m1-404v1m0 15v1m0 20v1m0 15v1m0 7v2m0 4v2m0 13v6m0 1v2m0 22v1m0 48v2m0 32v2m0 74v2m0 4v1m0 116v1m0 6v1m1-430v1m0 43v1m0 36v2m0 3v2m0 20v1m0 6v1m0 65v4m0 1v3m0 108v2m0 7v1m0 114v1m1-421v2m0 42v1m0 14v3m0 20v1m0 1v1m0 21v1m0 77v1m0 104v1m0 2v1m0 2v1m1-294v2m0 19v2m0 20v1m0 12v1m0 82v1m0 36v1m0 60v5m0 44v1m0 4v2m0 94v3m0 10v1m1-381v1m0 23v1m0 95v1m0 8v2m0 17v1m0 5v2m0 60v1m0 30v1m0 46v1m0 59v1m0 24v1m1-397v1m0 15v1m0 25v2m0 48v1m0 23v1m0 21v1m0 9v1m0 17v1m0 2v2m0 47v1m0 1v1m0 11v1m0 30v1m0 46v1m0 58v2m0 2v2m0 19v1m0 11v3m1-408v3m0 11v1m0 28v2m0 5v1m0 65v2m0 20v6m0 23v1m0 62v1m0 77v1m0 58v1m0 6v1m0 17v1m1-390v1m0 8v2m0 31v1m0 1v1m0 1v1m0 69v4m0 24v1m0 1v1m0 35v3m0 41v1m0 32v4m0 16v1m0 24v1m0 42v1m0 15v1m0 8v2m0 7v2m0 5v1m0 3v1m0 23v2m1-417v1m0 6v1m0 67v1m0 13v1m0 29v2m0 21v1m0 3v8m0 7v1m0 49v1m0 50v1m0 13v1m0 2v1m0 22v1m0 70v3m0 16v2m0 20v1m0 2v2m1-440v3m0 22v3m0 36v1m0 32v1m0 18v1m0 17v1m0 7v2m0 1v1m0 29v5m0 1v1m0 49v1m0 52v1m0 11v1m0 25v1m0 49v3m0 22v2m0 16v5m0 10v5m0 5v1m1-438v5m0 15v1m0 39v1m0 34v1m0 7v2m0 4v4m0 17v1m0 12v1m0 83v1m0 45v1m0 8v1m0 32v3m0 48v3m0 3v2m0 4v1m0 17v1m0 20v4m0 17v1m1-434v4m0 93v1m0 2v3m0 5v1m0 1v1m0 28v1m0 31v1m0 48v2m0 16v1m0 28v1m0 10v4m0 12v1m0 74v2m0 45v1m0 17v1m1-431v1m0 8v1m0 3v1m0 13v1m0 60v1m0 3v1m0 6v3m0 1v1m0 32v1m0 25v2m0 1v2m0 48v1m0 46v1m0 15v2m0 11v2m0 17v1m0 56v1m0 45v1m0 17v1m1-431v1m0 6v1m0 5v1m0 71v1m0 2v1m0 3v1m0 8v1m0 18v1m0 42v1m0 25v3m0 20v2m0 36v2m0 5v2m0 1v1m0 18v2m0 11v1m0 14v1m0 2v1m0 102v1m0 17v2m1-432v6m0 77v1m0 2v1m0 5v1m0 13v2m0 9v1m0 2v1m0 57v1m0 29v3m0 23v1m0 6v2m0 1v5m0 2v1m0 3v1m0 49v1m0 4v3m0 100v2m0 17v2m1-407v1m0 54v1m0 25v2m0 5v2m0 89v2m0 27v1m0 3v2m0 11v3m0 58v1m0 13v1m0 6v1m1-318v5m0 6v1m0 31v15m0 5v2m0 28v1m0 3v1m0 19v4m0 98v1m0 1v1m0 51v2m0 22v1m0 11v1m0 8v1m0 31v1m0 24v1m1-371v1m0 6v1m0 45v2m0 1v2m0 14v1m0 16v3m0 24v4m0 38v1m0 134v1m0 8v2m0 47v1m0 16v1m0 3v2m1-404v7m0 31v1m0 111v1m0 38v1m0 54v1m0 57v1m0 21v4m0 3v1m0 45v4m0 1v1m0 14v1m0 6v1m1-366v1m0 22v4m0 85v1m0 59v2m0 30v1m0 41v2m0 11v1m0 1v1m0 28v2m0 14v1m0 50v1m0 8v1m1-366v1m0 54v1m0 4v1m0 68v1m0 38v3m0 19v5m0 7v1m0 10v1m0 29v2m0 14v1m0 46v1m0 48v1m0 10v1m1-366v6m0 20v1m0 28v1m0 1v2m0 53v6m0 11v1m0 26v2m0 24v7m0 5v1m0 1v1m0 1v3m0 12v1m0 27v1m0 27v1m0 36v1m0 26v1m0 19v1m0 12v1m1-381v3m0 17v2m0 10v1m0 37v1m0 53v1m0 19v1m0 22v3m0 2v1m0 22v1m0 32v1m0 13v3m0 76v1m0 35v1m0 8v1m0 14v1m1-360v1m0 76v2m0 21v2m0 21v1m0 19v2m0 6v1m0 55v1m0 15v1m0 76v1m0 35v1m0 2v5m0 14v1m0 6v7m0 3v7m1-370v4m0 60v1m0 12v1m0 9v1m0 41v1m0 10v1m0 44v4m0 7v2m0 45v1m0 45v1m0 21v1m0 14v1m0 33v2m0 8v1m1-381v2m0 84v1m0 51v1m0 12v1m0 3v1m0 2v9m0 2v1m0 38v1m0 91v1m0 19v1m0 35v4m0 21v1m1-411v1m0 24v3m0 84v3m0 25v3m0 7v1m0 15v1m0 14v3m0 2v1m0 9v2m0 40v1m0 13v1m0 31v2m0 42v1m0 1v1m0 16v2m0 34v1m0 5v1m0 24v2m1-415v2m0 19v3m0 74v3m0 2v3m0 4v1m0 31v2m0 2v3m0 56v3m0 44v1m0 13v3m0 57v1m0 3v1m0 14v1m0 35v1m1-388v4m0 4v4m0 13v2m0 36v2m0 35v4m0 8v4m0 13v1m0 20v2m0 3v1m0 36v2m0 20v1m0 54v3m0 20v1m0 14v6m0 16v3m0 5v1m0 10v3m0 45v1m1-398v1m0 12v4m0 8v1m0 12v1m0 13v6m0 4v2m0 12v3m0 21v1m0 28v1m0 27v1m0 11v2m0 24v2m0 71v2m0 18v1m0 5v1m0 11v2m0 21v1m0 10v9m0 21v1m0 27v1m1-400v1m0 24v1m0 33v4m0 8v2m0 3v1m0 82v2m0 5v4m0 28v1m0 48v1m0 12v1m0 3v1m0 1v3m0 19v1m0 7v1m0 8v2m0 16v7m0 42v1m0 14v1m0 12v1m1-377v1m0 48v3m0 19v3m0 3v2m0 58v2m0 68v1m0 20v5m0 2v1m0 18v1m0 8v1m0 9v1m0 6v1m0 17v1m0 35v2m0 13v2m0 11v1m0 14v1m1-379v1m0 55v1m0 18v2m0 3v1m0 59v2m0 68v1m0 15v3m0 5v2m0 20v1m0 4v3m0 16v1m0 17v1m0 35v1m0 17v1m0 8v2m0 16v1m1-405v1m0 23v1m0 18v1m0 36v1m0 144v1m0 23v1m0 34v2m0 18v1m0 17v1m0 61v2m0 19v1m1-407v1m0 23v1m0 17v1m0 43v5m0 4v1m0 30v1m0 52v2m0 36v3m0 5v1m0 2v1m0 1v2m0 17v1m0 34v1m0 19v1m0 17v1m0 61v1m1-386v1m0 23v1m0 19v1m0 2v1m0 44v2m0 1v1m0 20v1m0 1v1m0 9v1m0 8v5m0 6v1m0 1v1m0 23v6m0 45v1m0 4v1m0 2v2m0 13v2m0 26v4m0 23v2m0 17v1m0 38v1m1-363v1m0 25v1m0 22v8m0 26v1m0 11v1m0 20v1m0 3v1m0 9v1m0 6v1m0 87v1m0 10v2m0 126v1m0 18v2m0 1v10m0 14v1m1-384v1m0 56v1m0 36v1m0 9v1m0 4v1m0 34v1m0 25v2m0 24v2m0 13v2m0 156v2m1-396v10m0 4v1m0 11v1m0 56v2m0 35v4m0 6v1m0 1v1m0 9v1m0 2v1m0 5v1m0 4v3m0 12v1m0 22v1m0 15v6m0 4v1m0 17v1m0 28v1m0 128v4m1-405v4m0 11v2m0 1v1m0 1v2m0 10v1m0 57v1m0 38v1m0 18v1m0 8v1m0 2v1m0 37v1m0 13v3m0 6v1m0 2v1m0 46v1m0 7v4m0 84v1m0 2v4m0 31v2m1-416v1m0 7v1m0 22v1m0 10v1m0 17v2m0 77v2m0 27v1m0 37v1m0 13v1m0 10v1m0 26v2m0 1v2m0 16v1m0 103v1m0 7v3m0 22v3m1-387v1m0 10v2m0 17v1m0 20v1m0 57v4m0 74v1m0 43v2m0 15v2m0 24v3m0 23v1m0 51v1m0 2v4m0 4v1m0 23v2m1-394v5m0 13v1m0 17v2m0 19v1m0 17v11m0 1v6m0 1v5m0 40v1m0 98v1m0 2v2m0 12v1m0 22v1m0 3v5m0 64v6m0 1v2m0 9v1m0 24v1m1-357v2m0 60v1m0 138v2m0 2v2m0 9v1m0 22v1m0 24v2m0 53v1m0 12v1m1-331v2m0 59v1m0 67v4m0 72v1m0 29v2m0 24v1m0 3v1m0 25v1m0 39v1m0 9v4m1-372v3m0 26v3m0 14v1m0 42v1m0 44v2m0 24v4m0 69v1m0 19v2m0 2v5m0 24v2m0 5v4m0 17v4m0 1v1m0 17v6m0 16v1m0 7v1m0 4v1m0 21v2m1-402v6m0 3v3m0 26v1m0 103v5m0 1v1m0 22v1m0 49v3m0 16v1m0 17v1m0 23v1m0 6v3m0 11v2m0 13v1m0 7v1m0 39v1m0 23v10m1-361v1m0 132v2m0 45v1m0 21v1m0 5v1m0 8v2m0 25v1m0 4v1m0 16v1m0 21v2m0 38v1m1-328v1m0 69v2m0 62v1m0 54v5m0 8v1m0 12v1m0 28v1m0 2v1m0 18v1m0 22v1m0 10v1m0 20v2m1-375v1m0 17v2m0 4v2m0 27v1m0 64v4m0 13v1m0 24v1m0 26v1m0 41v1m0 36v1m0 31v1m0 20v1m0 8v1m0 13v1m0 32v1m0 24v1m1-422v1m0 19v1m0 12v1m0 3v2m0 2v4m0 2v1m0 27v1m0 79v1m0 23v1m0 2v1m0 26v1m0 7v4m0 28v1m0 32v1m0 3v1m0 8v1m0 52v1m0 15v1m0 1v3m1-368v1m0 17v1m0 15v2m0 11v1m0 27v1m0 101v1m0 4v1m0 26v1m0 10v2m0 25v1m0 3v1m0 43v1m0 29v1m0 2v1m0 9v2m0 1v3m0 2v1m0 21v3m0 26v1m1-397v1m0 46v1m0 8v1m0 18v1m0 77v2m0 27v2m0 25v2m0 10v5m0 1v1m0 23v1m0 43v1m0 40v1m0 6v2m0 56v1m0 3v4m1-408v1m0 46v1m0 6v1m0 20v1m0 78v3m0 26v1m0 26v2m0 15v1m0 23v1m0 9v4m0 30v2m0 47v1m0 18v1m0 37v1m0 14v1m1-416v1m0 46v1m0 1v4m0 22v1m0 80v2m0 13v2m0 10v1m0 43v2m0 13v1m0 8v1m0 44v1m0 47v1m0 18v1m0 24v4m0 9v2m0 11v1m1-414v2m0 73v1m0 5v1m0 28v3m0 14v1m0 1v2m0 38v1m0 13v1m0 44v3m0 6v4m0 10v1m0 21v1m0 1v1m0 3v1m0 16v1m0 47v2m0 53v1m0 2v10m1-410v1m0 10v1m0 34v1m0 27v1m0 2v1m0 28v2m0 3v1m0 17v2m0 1v14m0 20v1m0 15v1m0 33v2m0 11v3m0 1v2m0 15v1m0 24v2m0 18v2m0 5v3m0 39v1m0 49v3m1-396v1m0 10v2m0 62v1m0 13v2m0 12v2m0 19v1m0 38v2m0 17v2m0 1v3m0 80v3m0 1v2m0 22v1m0 1v3m0 3v3m0 11v4m0 22v1m0 47v1m0 17v1m1-410v1m0 11v2m0 72v2m0 2v1m0 10v1m0 59v1m0 88v1m0 12v4m0 6v3m0 68v1m0 16v4m0 25v1m1-390v1m0 12v1m0 1v2m0 28v1m0 38v1m0 5v2m0 7v1m0 58v2m0 21v1m0 68v1m0 5v6m0 4v1m0 8v1m0 30v1m0 37v1m0 19v1m0 23v1m1-390v1m0 17v3m0 26v1m0 26v1m0 9v1m0 8v3m0 3v1m0 25v1m0 32v1m0 19v4m0 36v1m0 18v2m0 13v1m0 13v1m0 2v1m0 7v2m0 29v1m0 8v2m0 15v1m0 9v1m0 14v1m0 14v2m0 12v1m1-391v2m0 21v4m0 58v1m0 12v1m0 29v1m0 50v1m0 11v1m0 15v1m0 22v1m0 24v1m0 16v1m0 8v7m0 23v7m0 3v1m0 38v1m0 6v1m0 1v1m0 1v5m0 15v3m0 11v1m1-431v1m0 23v1m0 27v2m0 55v1m0 40v2m0 22v1m0 42v2m0 9v3m0 22v1m0 27v1m0 9v1m0 1v2m0 52v1m0 21v1m0 1v2m0 6v6m0 5v2m0 12v2m0 23v1m0 8v2m1-439v1m0 21v1m0 52v1m0 30v2m0 17v1m0 18v5m0 25v1m0 1v2m0 40v2m0 6v1m0 4v1m0 7v3m0 8v2m0 22v1m0 6v1m0 7v1m0 57v1m0 29v1m0 10v1m0 6v1m0 6v1m0 2v1m1-470v2m0 63v1m0 18v2m0 68v9m0 1v5m0 38v1m0 8v1m0 25v2m0 40v1m0 4v1m0 6v1m0 40v1m0 8v1m0 1v1m0 91v1m0 10v1m0 8v2m0 3v1m0 38v5m1-513v4m0 2v1m0 63v1m0 85v2m0 37v3m0 11v2m0 10v1m0 26v1m0 42v2m0 8v1m0 20v1m0 17v1m0 12v1m0 42v1m0 1v2m0 17v2m0 2v1m0 5v1m0 38v3m0 44v1m1-518v4m0 7v1m0 41v3m0 102v2m0 16v1m0 20v1m0 4v4m0 1v3m0 2v1m0 81v1m0 11v1m0 27v3m0 6v1m0 15v1m0 33v1m0 20v1m0 103v1m1-427v3m0 116v1m0 34v1m0 26v1m0 33v2m0 32v1m0 50v1m0 12v1m0 9v1m0 28v1m0 34v1m0 39v5m1-433v1m0 3v2m0 16v1m0 113v1m0 17v1m0 26v1m0 36v2m0 17v1m0 10v2m0 31v1m0 17v2m0 24v1m0 2v1m0 25v1m0 34v1m0 21v1m1-490v1m0 22v1m0 32v1m0 5v1m0 1v1m0 19v1m0 16v1m0 40v2m0 38v1m0 48v1m0 26v1m0 11v3m0 25v1m0 17v1m0 8v1m0 34v1m0 37v1m0 5v2m0 62v1m0 5v1m0 11v3m1-488v2m0 19v1m0 31v2m0 9v1m0 19v2m0 45v2m0 1v7m0 88v1m0 21v6m0 11v1m0 3v1m0 43v5m0 2v1m0 47v4m0 10v2m0 1v2m0 28v5m0 45v2m0 1v2m0 1v2m0 35v1m1-510v2m0 16v1m0 18v2m0 10v2m0 12v4m0 17v1m0 43v1m0 97v1m0 21v1m0 70v2m0 3v1m0 34v2m0 54v1m0 91v2m1-507v2m0 13v1m0 9v1m0 19v2m0 18v6m0 12v1m0 41v1m0 97v1m0 21v1m0 49v1m0 25v1m0 32v2m0 3v3m0 28v2m0 20v1m0 40v5m0 46v1m1-503v9m0 3v1m0 29v1m0 8v1m0 30v1m0 137v1m0 130v1m0 8v4m0 22v2m0 18v4m0 40v1m1-466v1m0 23v3m0 29v1m0 10v1m0 30v2m0 68v1m0 65v1m0 130v1m0 20v1m0 11v3m0 101v4m1-505v1m0 53v1m0 44v1m0 65v1m0 40v1m0 1v1m0 22v2m0 24v7m0 13v2m0 2v1m0 18v1m0 8v1m0 4v1m0 20v1m0 9v3m0 91v1m0 59v1m1-499v2m0 50v1m0 14v1m0 31v1m0 63v1m0 44v3m0 17v2m0 20v5m0 8v2m0 13v1m0 30v1m0 2v1m0 10v2m0 22v2m0 69v1m0 18v1m0 31v1m0 27v1m1-496v4m0 45v1m0 16v1m0 31v1m0 65v1m0 44v3m0 11v1m0 1v1m0 20v2m0 15v2m0 44v1m0 9v2m0 2v2m0 22v3m0 77v2m0 33v1m0 2v2m0 43v1m1-507v2m0 42v1m0 18v2m0 30v1m0 6v2m0 11v6m0 56v1m0 30v10m0 22v1m0 20v1m0 51v2m0 6v1m0 25v7m0 45v4m0 57v1m0 44v1m1-504v2m0 61v1m0 31v4m0 3v2m0 3v2m0 2v2m0 6v4m0 4v1m0 25v1m0 22v1m0 83v1m0 18v1m0 29v2m0 9v4m0 28v1m0 134v1m0 1v1m0 12v1m1-501v1m0 61v1m0 39v3m0 2v2m0 13v2m0 2v1m0 22v2m0 24v1m0 97v3m0 30v1m0 15v1m0 4v6m0 19v2m0 30v1m0 114v1m1-499v1m0 24v1m0 1v2m0 33v1m0 63v2m0 47v3m0 79v1m0 1v1m0 9v3m0 32v1m0 17v2m0 1v1m0 56v1m0 36v1m0 12v5m0 7v1m0 33v1m1-478v1m0 20v3m0 4v2m0 32v1m0 64v5m0 45v1m0 54v1m0 22v1m0 3v3m0 3v3m0 18v2m0 14v1m0 17v1m0 58v2m0 1v1m0 23v1m0 9v2m0 12v1m0 5v2m0 6v1m0 33v2m0 3v1m1-483v1m0 18v1m0 9v1m0 32v7m0 62v1m0 23v1m0 21v1m0 37v1m0 14v1m0 22v1m0 8v2m0 33v1m0 1v2m0 17v1m0 55v4m0 49v2m0 15v1m0 1v5m0 28v2m1-480v1m0 16v1m0 11v1m0 29v2m0 7v1m0 62v1m0 23v2m0 20v1m0 50v1m0 4v2m0 60v1m0 11v4m0 40v1m0 30v1m0 7v4m0 10v2m0 19v1m0 24v1m0 39v3m0 1v1m1-494v1m0 14v1m0 13v1m0 26v2m0 10v1m0 19v3m0 65v1m0 20v1m0 44v3m0 6v1m0 26v1m0 32v2m0 12v1m0 43v1m0 28v3m0 24v11m0 6v2m0 26v1m0 37v1m0 5v1m1-494v1m0 8v5m0 15v2m0 21v3m0 35v3m0 9v3m0 51v3m0 18v1m0 1v2m0 33v1m0 5v1m0 3v1m0 1v1m0 2v1m0 18v1m0 7v1m0 15v1m0 15v2m0 56v2m0 67v1m0 34v1m0 35v1m0 7v3m1-495v7m0 22v1m0 19v1m0 33v1m0 7v1m0 7v1m0 3v1m0 6v1m0 18v3m0 25v1m0 21v3m0 1v2m0 32v1m0 7v2m0 18v1m0 7v1m0 17v1m0 12v2m0 57v1m0 70v1m0 2v1m0 31v1m0 13v1m0 19v1m0 11v2m1-467v1m0 17v1m0 33v1m0 9v1m0 39v1m0 40v3m0 38v3m0 27v1m0 22v1m0 4v1m0 10v1m0 58v1m0 14v2m0 16v2m0 20v1m0 18v1m0 33v1m0 26v1m0 4v1m0 14v1m1-467v1m0 49v1m0 49v1m0 40v1m0 69v2m0 22v1m0 6v1m0 4v5m0 31v1m0 41v1m0 39v1m0 54v1m0 26v1m0 19v5m1-471v1m0 35v1m0 63v1m0 38v1m0 68v2m0 23v1m0 8v1m0 29v4m0 7v1m0 56v2m0 21v1m0 37v1m0 18v1m0 51v3m1-438v1m0 38v1m0 18v1m0 5v2m0 35v1m0 40v1m0 25v3m0 24v1m0 10v1m0 40v1m0 25v3m0 25v2m0 6v1m0 15v1m0 39v1m0 1v1m0 16v2m0 6v1m0 18v1m1-411v1m0 7v2m0 19v1m0 3v1m0 25v1m0 5v2m0 1v1m0 30v1m0 58v5m0 1v1m0 1v1m0 26v1m0 53v3m0 14v1m0 4v1m0 1v1m0 3v2m0 22v1m0 9v1m0 12v2m0 9v1m0 51v1m0 3v2m0 17v1m0 12v2m0 9v1m1-458v1m0 1v1m0 23v1m0 5v1m0 23v1m0 28v1m0 6v1m0 28v3m0 66v1m0 26v1m0 50v4m0 3v2m0 13v1m0 11v1m0 19v2m0 11v2m0 9v1m0 10v1m0 1v1m0 51v1m0 1v1m0 15v4m1-478v1m0 43v1m0 3v1m0 23v4m0 55v1m0 28v6m0 63v2m0 3v1m0 56v1m0 30v3m0 23v2m0 14v3m0 15v1m0 7v1m0 43v1m0 30v6m0 1v2m1-473v3m0 37v3m0 88v7m0 89v1m0 2v3m0 58v2m0 31v1m0 11v1m0 12v1m0 12v1m0 19v1m0 5v1m0 81v1m1-468v1m0 33v3m0 98v2m0 16v2m0 15v2m0 32v1m0 51v1m0 33v1m0 10v3m0 1v3m0 14v1m0 24v1m0 1v1m0 1v3m0 3v1m0 22v1m0 3v1m0 92v2m1-449v1m0 1v2m0 12v1m0 90v2m0 12v2m0 16v1m0 3v1m0 29v1m0 67v1m0 23v6m0 53v3m0 24v2m0 45v1m0 50v1m0 8v3m0 4v1m1-468v2m0 17v4m0 3v1m0 47v1m0 36v1m0 154v1m0 77v1m0 11v3m0 10v3m0 93v2m1-444v3m0 169v1m0 25v1m0 4v1m0 38v1m0 27v2m0 64v2m0 18v1m0 43v1m0 23v1m0 16v1m1-439v1m0 125v1m0 19v2m0 22v1m0 1v1m0 24v3m0 18v5m0 42v2m0 15v4m0 49v1m0 78v4m0 2v1m0 6v1m0 9v1m1-468v3m0 1v3m0 42v1m0 67v1m0 39v1m0 4v2m0 11v1m0 27v1m0 43v1m0 46v1m0 3v1m0 36v1m0 22v1m0 7v1m0 51v1m0 29v2m0 8v2m1-421v5m0 3v2m0 2v1m0 66v3m0 37v4m0 2v1m0 9v1m0 25v1m0 3v1m0 22v1m0 16v2m0 35v1m0 17v1m0 10v1m0 56v1m0 13v1m0 1v1m0 42v2m0 1v1m0 30v1m1-485v1m0 61v1m0 5v3m0 74v2m0 42v1m0 7v1m0 25v1m0 5v1m0 36v2m0 56v1m0 45v3m0 19v3m0 8v2m0 3v1m0 39v2m0 4v1m0 10v2m0 18v1m1-462v3m0 2v2m0 28v3m0 39v1m0 45v4m0 19v3m0 17v1m0 39v1m0 22v3m0 9v1m0 59v1m0 2v2m0 31v1m0 33v1m0 3v4m0 6v4m0 27v1m0 3v4m0 7v2m0 6v2m0 22v2m0 1v1m1-416v1m0 76v1m0 6v3m0 29v1m0 39v1m0 24v9m0 51v1m0 9v1m0 10v4m0 21v1m0 33v1m0 1v1m0 14v2m0 24v1m0 3v1m0 13v1m0 4v1m0 28v1m1-467v2m0 26v2m0 43v2m0 1v2m0 50v1m0 3v2m0 33v1m0 39v1m0 46v1m0 3v1m0 60v1m0 71v8m0 34v3m1-438v2m0 4v1m0 21v2m0 4v1m0 45v2m0 51v1m0 124v2m0 60v1m0 35v1m0 44v1m0 59v2m1-474v5m0 5v1m0 26v2m0 5v1m0 48v1m0 49v1m0 26v5m0 7v1m0 119v1m0 27v1m0 9v2m0 24v1m0 46v2m0 23v3m0 9v1m0 19v2m1-477v5m0 5v5m0 29v5m0 39v1m0 57v1m0 33v5m0 42v1m0 1v4m0 50v3m0 134v1m0 35v1m0 17v1m0 30v5m1-512v2m0 87v1m0 57v1m0 39v1m0 1v11m0 30v1m0 4v2m0 44v4m0 37v1m0 39v10m0 1v5m0 96v2m0 27v4m1-508v1m0 102v1m0 42v2m0 53v2m0 35v2m0 68v1m0 15v1m0 36v2m0 16v2m0 30v1m0 62v1m0 26v3m1-505v1m0 104v12m0 1v2m0 26v1m0 13v2m0 79v3m0 7v3m0 18v4m0 27v1m0 4v1m0 8v3m0 6v1m0 55v1m0 28v1m0 15v1m0 3v4m0 64v3m1-420v8m0 30v1m0 24v1m0 16v6m0 47v1m0 28v1m0 5v1m0 3v1m0 16v1m0 32v1m0 22v1m0 1v8m0 46v2m0 22v4m0 17v1m0 1v1m0 28v2m0 1v3m0 32v2m1-433v2m0 13v1m0 163v2m0 2v1m0 5v1m0 14v1m0 34v1m0 79v1m0 71v2m0 6v1m0 15v4m0 11v1m1-453v1m0 20v1m0 2v1m0 11v1m0 148v2m0 1v3m0 13v1m0 7v1m0 12v1m0 68v1m0 10v1m0 36v3m0 41v1m0 14v1m0 2v1m0 7v1m0 9v1m0 28v1m1-454v2m0 20v1m0 4v1m0 9v1m0 60v4m0 25v3m0 41v1m0 14v1m0 28v1m0 10v1m0 15v1m0 65v3m0 36v2m0 40v1m0 23v1m0 11v1m0 26v1m1-454v1m0 21v1m0 6v1m0 34v1m0 32v2m0 32v1m0 33v1m0 5v1m0 6v2m0 6v1m0 30v2m0 7v1m0 17v1m0 146v2m0 34v1m0 22v1m0 1v1m1-454v1m0 21v1m0 8v1m0 31v2m0 2v1m0 14v1m0 51v1m0 32v1m0 3v1m0 6v1m0 2v2m0 3v1m0 33v2m0 4v1m0 19v1m0 18v1m0 34v1m0 51v1m0 41v1m0 34v1m1-393v1m0 97v2m0 37v4m0 5v3m0 36v2m0 1v1m0 21v1m0 15v2m0 12v3m0 21v1m0 15v6m0 30v1m0 76v2m0 10v1m1-430v3m0 68v6m0 6v1m0 40v1m0 31v1m0 1v3m0 74v1m0 12v2m0 4v1m0 34v1m0 11v3m0 37v1m0 39v3m0 47v1m1-434v2m0 67v3m0 7v6m0 110v1m0 27v4m0 11v1m0 8v3m0 7v1m0 34v1m0 8v2m0 69v1m0 13v2m1-273v3m0 23v2m0 15v1m0 80v1m0 1v1m0 3v2m0 11v1m0 41v1m0 68v3m1-262v5m0 3v5m0 1v2m0 13v1m0 17v1m0 84v3m0 14v1m0 35v5m0 67v2m0 51v1m1-413v1m0 32v1m0 25v1m0 1v1m0 38v2m0 16v1m0 133v2m0 14v1m0 69v2m0 73v1m1-452v4m0 33v1m0 34v1m0 10v4m0 13v4m0 63v1m0 19v1m0 25v1m0 26v1m0 51v4m0 9v1m0 16v1m0 2v1m0 53v2m0 1v10m0 60v1m0 13v2m1-469v1m0 5v1m0 1v9m0 57v1m0 30v1m0 84v2m0 3v6m0 14v1m0 26v1m0 11v4m0 15v1m0 23v2m0 6v1m0 14v3m0 4v1m0 65v1m0 60v2m0 1v5m0 1v4m0 2v3m1-476v4m0 7v1m0 9v1m0 57v1m0 30v1m0 63v4m0 18v3m0 6v1m0 1v1m0 39v1m0 27v1m0 2v1m0 24v1m0 9v3m0 7v1m0 8v1m0 133v1m1-469v2m0 24v1m0 55v2m0 29v1m0 96v1m0 39v1m0 25v1m0 4v1m0 25v3m0 3v2m0 3v2m0 4v1m0 10v1m0 15v1m0 74v1m1-429v2m0 27v1m0 56v2m0 17v1m0 10v1m0 108v3m0 12v5m0 8v2m0 20v3m0 6v1m0 28v2m0 7v1m0 1v2m0 12v1m0 15v4m0 71v2m1-432v1m0 30v1m0 31v1m0 25v1m0 74v3m0 62v4m0 23v1m0 11v8m0 10v1m0 21v1m0 31v1m0 18v1m0 72v10m1-410v3m0 2v1m0 23v2m0 2v1m0 24v1m0 72v1m0 4v1m0 46v1m0 31v1m0 9v1m0 29v1m0 18v2m0 25v3m0 5v1m0 18v1m0 14v6m0 42v2m0 50v4m1-443v1m0 22v2m0 3v1m0 26v1m0 16v1m0 27v3m0 30v1m0 27v1m0 18v1m0 6v1m0 64v6m0 22v3m0 23v1m0 18v1m0 12v1m0 6v1m0 38v1m0 4v1m0 59v6m1-433v1m0 4v1m0 28v1m0 26v1m0 13v3m0 59v2m0 20v1m0 4v1m0 120v1m0 18v2m0 18v1m0 20v1m0 15v1m0 6v1m1-430v2m0 40v1m0 24v1m0 55v1m0 11v1m0 60v2m0 23v1m0 2v1m0 19v4m0 14v1m0 84v1m0 19v3m0 37v2m0 2v1m0 1v5m0 30v2m1-414v1m0 31v1m0 3v4m0 48v1m0 97v1m0 45v1m0 101v2m0 8v3m0 26v1m0 8v2m0 30v2m1-419v3m0 23v1m0 9v3m0 4v1m0 20v1m0 10v4m0 13v2m0 21v1m0 115v1m0 2v1m0 70v1m0 33v3m0 2v3m0 3v3m0 34v1m0 1v2m0 7v1m0 20v1m0 28v1m1-451v2m0 11v1m0 13v1m0 68v1m0 134v1m0 2v2m0 21v2m0 7v1m0 38v2m0 38v1m0 76v2m0 22v3m0 7v1m1-458v1m0 14v1m0 41v3m0 38v1m0 21v1m0 110v1m0 2v1m0 25v3m0 61v1m0 100v1m1-428v2m0 16v1m0 39v1m0 3v2m0 37v1m0 18v1m0 2v1m0 100v4m0 3v2m0 4v4m0 24v1m0 24v4m0 30v2m0 2v1m0 99v3m1-432v1m0 19v1m0 8v1m0 35v3m0 7v1m0 40v5m0 4v2m0 8v1m0 1v1m0 83v4m0 4v3m0 10v1m0 81v1m0 107v1m1-434v1m0 21v1m0 6v1m0 39v4m0 1v2m0 1v1m0 1v1m0 48v1m0 5v2m0 85v1m0 47v1m0 12v2m0 1v3m0 81v1m0 46v3m0 15v2m0 23v1m1-461v1m0 23v1m0 3v2m0 25v5m0 55v1m0 14v1m0 10v1m0 79v1m0 50v2m0 7v2m0 6v1m0 43v1m0 37v1m0 44v1m0 20v1m0 4v1m0 16v1m1-434v2m0 81v1m0 21v3m0 6v1m0 30v2m0 42v3m0 2v1m0 25v1m0 27v7m0 9v2m0 20v7m0 5v1m0 9v1m0 27v1m0 45v8m0 22v1m1-333v1m0 3v3m0 2v1m0 19v2m0 13v1m0 22v3m0 42v2m0 72v3m0 12v5m0 7v3m0 13v1m0 15v1m0 8v1m0 78v2m0 3v4m1-437v2m0 94v1m0 43v1m0 24v2m0 52v1m0 37v1m0 26v2m0 8v2m0 15v1m0 13v1m0 36v1m0 15v1m0 36v3m0 9v1m0 3v2m0 4v1m1-435v1m0 24v5m0 12v1m0 53v2m0 66v3m0 51v1m0 64v2m0 38v1m0 36v1m0 15v1m0 10v5m0 31v1m0 11v1m0 6v2m1-414v1m0 108v2m0 14v1m0 11v5m0 113v4m0 35v1m0 36v1m0 18v3m0 1v3m0 35v1m0 13v1m0 4v1m1-411v1m0 120v1m0 3v1m0 180v1m0 40v2m0 13v7m0 21v1m0 15v1m0 2v1m1-409v1m0 5v5m0 63v3m0 40v3m0 5v1m0 188v3m0 51v2m0 37v1m1-407v5m0 62v6m0 3v1m0 33v6m0 48v1m0 63v5m0 31v2m0 1v2m0 100v1m0 10v1m1-392v1m0 87v1m0 31v1m0 37v3m0 12v1m0 143v1m0 17v1m0 1v3m0 1v7m0 33v1m0 23v4m0 8v2m1-445v1m0 24v1m0 89v1m0 72v6m0 3v2m0 13v1m0 7v4m0 6v2m0 5v3m0 1v7m0 7v1m0 104v1m0 13v4m0 1v1m0 5v2m0 21v1m0 21v1m0 21v5m1-456v3m0 20v1m0 91v1m0 14v1m0 8v1m0 22v1m0 30v3m0 4v1m0 9v1m0 1v1m0 18v4m0 58v1m0 64v1m0 18v1m0 5v1m0 61v1m0 1v4m0 5v2m1-442v7m0 108v1m0 6v1m0 16v1m0 27v1m0 17v1m0 7v1m0 3v1m0 76v2m0 7v1m0 4v1m0 7v2m0 1v1m0 40v2m0 85v1m0 14v1m1-327v2m0 3v1m0 46v1m0 17v1m0 5v1m0 5v1m0 12v1m0 8v1m0 17v1m0 12v1m0 21v1m0 10v4m0 7v1m0 30v2m0 11v1m0 51v1m0 2v3m0 29v1m0 16v2m0 4v2m1-333v2m0 49v1m0 17v1m0 2v2m0 17v2m0 10v1m0 17v1m0 8v3m0 21v1m0 51v2m0 3v1m0 8v1m0 28v1m0 25v1m0 3v2m0 26v1m0 19v4m1-438v2m0 157v1m0 17v2m0 2v1m0 3v1m0 9v3m0 31v1m0 60v1m0 21v1m0 6v1m0 6v1m0 17v2m0 31v2m0 1v2m0 6v1m0 2v3m0 19v1m1-304v1m0 49v1m0 21v3m0 1v2m0 42v1m0 17v1m0 32v2m0 27v2m0 13v1m0 50v1m0 12v2m0 12v4m0 5v1m1-302v1m0 147v1m0 18v3m0 11v4m0 12v2m0 11v1m0 2v1m0 48v2m1-246v1m0 128v1m0 17v2m0 18v2m0 6v4m0 14v1m0 48v2m1-394v2m0 138v3m0 5v1m0 83v1m0 1v2m0 7v5m0 19v2m0 9v1m0 16v2m0 22v4m0 67v2m0 2v2m0 1v4m0 16v1m1-419v1m0 2v1m0 39v2m0 1v1m0 46v1m0 46v1m0 3v2m0 2v1m0 11v3m0 28v1m0 7v6m0 6v2m0 1v2m0 21v3m0 2v2m0 5v5m0 1v7m0 4v2m0 9v2m0 15v2m0 42v4m0 4v3m0 18v2m1-371v2m0 4v2m0 129v5m0 6v2m0 92v2m0 20v1m0 12v2m0 16v1m0 55v1m0 5v1m0 88v1m1-439v1m0 123v4m0 17v1m0 111v1m0 4v2m0 2v3m0 16v1m0 7v2m0 49v1m0 94v1m1-439v2m0 1v2m0 48v1m0 68v1m0 69v1m0 18v2m0 44v4m1-256v2m0 170v1m0 15v1m0 16v1m0 2v2m0 135v1m0 43v1m0 45v2m1-435v4m0 62v1m0 67v2m0 1v1m0 31v1m0 17v4m0 11v1m0 5v1m0 175v3m0 43v2m0 3v1m1-372v2m0 47v1m0 24v2m0 19v2m0 6v1m0 41v1m0 27v1m0 33v7m0 67v4m0 32v2m0 46v1m0 6v1m1-456v1m0 60v2m0 19v1m0 76v1m0 17v1m0 2v2m0 2v2m0 15v3m0 17v1m0 7v2m0 6v1m0 1v4m0 12v1m0 32v2m0 68v1m0 9v4m0 1v2m0 13v8m0 1v3m0 30v6m0 1v1m0 9v1m0 8v1m1-398v2m0 10v2m0 8v1m0 5v1m0 6v1m0 6v1m0 58v3m0 13v1m0 5v2m0 2v1m0 4v1m0 6v3m0 3v2m0 16v3m0 6v2m0 3v1m0 6v2m0 9v1m0 30v3m0 19v1m0 54v1m0 12v10m0 1v2m0 15v3m0 9v3m0 20v2m0 6v1m0 10v1m1-464v2m0 62v1m0 11v1m0 2v2m0 5v1m0 12v1m0 2v3m0 1v1m0 33v1m0 28v2m0 4v1m0 5v1m0 9v1m0 6v5m0 9v1m0 3v3m0 5v1m0 6v1m0 7v3m0 9v1m0 37v2m0 19v3m0 54v1m0 44v2m0 6v1m0 25v2m0 3v1m0 12v1m1-463v3m0 26v1m0 18v3m0 22v1m0 5v5m0 9v2m0 1v1m0 1v1m0 28v1m0 41v2m0 3v2m0 2v1m0 32v1m0 5v1m0 3v1m0 28v1m0 66v3m0 39v4m0 49v6m0 14v1m0 13v3m0 14v1m1-468v1m0 33v1m0 16v1m0 20v1m0 2v2m0 27v3m0 25v1m0 47v1m0 37v1m0 4v2m0 94v2m0 41v1m0 72v1m0 21v3m1-443v2m0 16v1m0 14v1m0 22v2m0 25v3m0 30v2m0 27v1m0 56v1m0 15v1m0 124v2m0 40v1m0 53v1m1-437v1m0 15v2m0 97v2m0 7v4m0 7v7m0 58v1m0 15v1m0 25v1m0 23v4m0 18v1m0 50v1m0 21v1m0 19v1m0 30v2m1-434v1m0 37v2m0 108v1m0 5v1m0 19v1m0 62v1m0 44v2m0 25v1m0 7v1m0 40v1m0 10v3m0 10v1m0 48v1m1-431v1m0 38v1m0 57v1m0 50v2m0 2v1m0 19v1m0 55v3m0 6v1m0 40v3m0 28v1m0 2v4m0 40v1m0 14v1m0 10v1m0 15v1m0 1v2m0 20v4m0 2v2m0 32v1m1-462v1m0 39v1m0 56v1m0 48v1m0 2v2m0 86v1m0 37v2m0 32v1m0 19v4m0 21v1m0 27v2m0 12v1m0 23v1m1-380v1m0 56v1m0 35v1m0 10v1m0 2v1m0 64v1m0 59v2m0 53v1m0 4v3m0 17v1m0 30v1m0 10v1m0 59v1m0 3v1m1-418v1m0 56v3m0 19v5m0 7v1m0 10v1m0 69v2m0 1v2m0 26v2m0 22v4m0 12v1m0 37v2m0 2v1m0 4v1m0 19v1m0 32v1m0 8v1m0 61v3m1-457v1m0 11v5m0 24v1m0 1v1m0 56v2m0 13v4m0 5v5m0 1v1m0 10v1m0 20v1m0 78v2m0 2v2m0 19v1m0 17v1m0 12v11m0 15v2m0 4v1m0 5v1m0 48v1m0 6v1m0 30v1m1-422v1m0 30v3m0 7v1m0 59v2m0 9v2m0 14v1m0 5v1m0 4v1m0 96v4m0 6v2m0 7v1m0 28v1m0 42v1m0 7v1m0 23v4m0 21v1m0 4v1m0 9v6m0 17v10m0 26v2m1-430v1m0 3v1m0 28v1m0 39v1m0 5v3m0 23v1m0 2v1m0 48v1m0 14v1m0 45v1m0 4v1m0 2v1m0 5v2m0 21v1m0 40v1m0 20v1m0 40v1m0 16v1m0 50v2m1-435v3m0 1v3m0 34v2m0 38v2m0 1v2m0 28v1m0 77v1m0 33v4m0 5v3m0 33v1m0 28v3m0 9v1m0 8v1m0 1v1m0 39v2m0 26v1m0 18v9m0 12v2m1-434v1m0 43v1m0 77v1m0 69v1m0 9v4m0 5v1m0 102v4m0 3v1m0 4v2m0 66v1m0 25v7m0 4v1m1-387v1m0 77v1m0 12v2m0 53v1m0 18v1m0 107v3m0 4v1m0 2v1m0 7v4m0 22v1m0 22v1m0 9v1m0 31v4m1-453v1m0 1v1m0 24v1m0 101v6m0 11v1m0 8v3m0 30v1m0 42v1m0 114v1m0 4v1m0 56v5m0 5v1m1-401v3m0 7v2m0 98v1m0 6v1m0 11v8m0 30v3m0 2v1m0 39v1m0 176v1m0 11v1m1-404v2m0 12v1m0 34v3m0 69v1m0 28v1m0 17v1m0 6v5m0 17v1m0 189v3m1-391v1m0 15v1m0 32v1m0 39v1m0 33v1m0 25v2m0 17v1m0 12v2m0 30v1m0 1v3m0 40v3m0 9v2m0 1v3m0 29v1m0 80v2m1-389v1m0 17v1m0 30v1m0 5v1m0 56v1m0 12v1m0 23v1m0 18v1m0 15v1m0 16v5m0 1v1m0 4v2m0 5v1m0 38v1m0 3v3m0 5v1m0 6v2m0 26v1m0 47v1m0 31v2m1-396v9m0 20v2m0 4v2m0 19v2m0 34v2m0 2v2m0 1v1m0 20v1m0 14v2m0 19v1m0 19v1m0 17v1m0 3v1m0 1v1m0 7v1m0 8v2m0 1v1m0 8v1m0 6v4m0 26v1m0 7v3m0 1v1m0 34v1m0 30v3m0 14v1m0 31v1m1-363v4m0 2v1m0 17v1m0 38v2m0 41v1m0 37v1m0 21v1m0 3v1m0 5v1m0 11v1m0 15v1m0 4v3m0 22v1m0 11v1m0 34v1m0 16v1m0 13v1m0 5v11m0 32v1m1-339v1m0 118v2m0 8v1m0 12v1m0 5v1m0 3v1m0 27v1m0 8v2m0 19v1m0 38v5m0 1v3m0 18v1m0 11v1m0 85v1m1-376v1m0 128v1m0 2v1m0 17v1m0 1v1m0 19v1m0 6v1m0 12v1m0 85v1m0 9v1m0 7v1m0 23v2m0 1v1m0 1v1m0 50v1m1-439v1m0 47v1m0 12v1m0 151v1m0 19v1m0 2v1m0 3v1m0 14v2m0 61v1m0 22v1m0 39v1m0 6v1m1-390v1m0 49v1m0 10v1m0 104v4m0 13v1m0 70v2m0 2v1m0 2v1m0 9v1m0 48v1m0 22v1m0 37v1m0 1v2m0 5v1m0 50v3m0 15v1m1-461v1m0 51v1m0 8v1m0 41v1m0 67v2m0 87v1m0 51v2m0 8v1m0 22v2m0 15v1m0 10v1m0 6v2m0 10v2m0 13v5m0 33v2m0 11v2m1-407v8m0 30v9m0 1v2m0 70v1m0 31v1m0 66v1m0 31v8m0 3v1m0 7v4m0 15v3m0 2v1m0 26v1m0 19v1m0 4v1m0 1v1m0 4v1m0 5v3m0 32v7m0 3v1m1-420v1m0 51v1m0 60v3m0 20v1m0 7v1m0 21v1m0 43v4m0 10v1m0 40v1m0 23v2m0 2v3m0 5v3m0 33v1m0 6v1m0 12v1m0 6v4m0 9v3m0 36v3m1-475v1m0 53v2m0 38v1m0 11v2m0 60v1m0 3v1m0 20v1m0 3v3m0 11v1m0 3v1m0 49v1m0 4v1m0 37v3m0 2v5m0 2v1m0 26v2m0 6v2m0 11v1m0 7v2m0 4v1m0 11v1m0 4v1m0 14v2m0 1v1m0 18v1m0 17v5m1-458v1m0 99v5m0 13v1m0 53v1m0 21v2m0 15v3m0 38v4m0 49v2m0 3v2m0 40v2m0 12v1m0 7v1m0 7v1m0 12v1m0 1v1m0 19v1m0 19v2m0 1v5m0 6v2m0 6v1m1-417v9m0 1v4m0 62v1m0 23v2m0 51v3m0 61v1m0 42v2m0 78v2m0 60v6m1-394v1m0 37v1m0 24v1m0 5v1m0 12v4m0 48v2m0 6v1m0 45v1m0 13v1m0 28v1m0 28v1m0 67v3m0 73v3m1-462v2m0 54v1m0 62v2m0 2v1m0 8v5m0 51v1m0 9v1m0 33v2m0 22v1m0 5v2m0 3v1m0 19v2m0 81v1m0 15v3m0 2v1m0 11v4m0 20v2m0 33v2m1-462v3m0 7v1m0 44v1m0 63v1m0 4v3m0 1v2m0 55v1m0 11v10m0 5v2m0 18v5m0 25v3m0 22v1m0 9v1m0 32v1m0 38v1m0 30v1m0 22v1m0 38v1m1-483v1m0 22v2m0 4v1m0 46v1m0 36v1m0 27v2m0 44v1m0 1v2m0 36v1m0 6v2m0 2v2m0 17v3m0 1v1m0 1v4m0 41v1m0 24v1m0 56v2m0 1v1m0 54v1m1-451v2m0 25v4m0 24v4m0 20v1m0 30v4m0 2v1m0 24v1m0 45v2m0 4v2m0 35v1m0 7v1m0 3v2m0 1v3m0 1v2m0 18v2m0 99v1m0 23v1m0 42v1m1-407v1m0 22v1m0 25v1m0 27v2m0 75v1m0 3v1m0 5v1m0 33v1m0 18v1m0 22v1m0 80v1m0 12v4m0 2v1m0 36v1m0 36v4m0 12v4m1-433v1m0 20v1m0 27v1m0 25v1m0 37v3m0 3v1m0 38v1m0 5v2m0 30v1m0 43v1m0 13v1m0 66v1m0 9v2m0 7v2m0 33v1m1-375v1m0 104v2m0 3v2m0 3v1m0 42v1m0 6v1m0 86v1m0 76v1m0 11v1m0 31v1m0 15v4m0 13v1m0 13v1m0 21v1m1-340v2m0 4v1m0 6v1m0 30v2m0 10v1m0 79v1m0 11v1m0 7v3m0 66v1m0 21v1m0 56v1m0 11v1m0 21v1m1-334v1m0 8v1m0 42v1m0 36v1m0 42v1m0 81v1m0 10v1m0 1v1m0 15v1m0 88v1m1-439v1m0 158v1m0 34v1m0 44v1m0 81v1m0 28v1m0 86v1m1-369v1m0 87v2m0 34v1m0 46v1m0 45v1m0 83v8m0 34v4m0 19v2m0 15v1m1-338v1m0 38v3m0 27v1m0 27v1m0 28v1m0 14v1m0 3v1m0 62v2m0 43v1m0 41v2m0 14v4m0 23v2m1-341v1m0 2v1m0 27v2m0 3v4m0 31v1m0 25v1m0 30v2m0 14v2m0 61v1m0 45v1m0 12v2m0 26v2m0 26v2m1-427v7m0 49v1m0 45v1m0 4v1m0 28v1m0 96v1m0 5v2m0 68v1m0 45v1m0 15v7m0 16v1m0 19v9m1-424v1m0 55v1m0 45v1m0 6v1m0 67v4m0 54v1m0 2v1m0 3v2m0 77v2m0 20v2m0 34v1m0 14v1m0 46v4m1-447v2m0 9v2m0 12v2m0 30v1m0 45v1m0 8v3m0 123v2m0 6v1m0 100v2m0 46v1m0 1v1m0 13v1m0 29v2m1-445v2m0 13v2m0 29v5m0 7v1m0 40v1m0 4v1m0 54v1m0 19v1m0 24v1m0 34v1m0 9v1m0 101v8m0 39v1m0 15v1m0 25v3m1-454v9m0 1v1m0 42v1m0 2v1m0 5v2m0 4v1m0 42v1m0 1v2m0 56v1m0 17v1m0 26v1m0 32v1m0 94v1m0 1v6m0 56v1m0 17v1m0 17v7m1-397v1m0 9v2m0 1v1m0 44v1m0 59v1m0 44v1m0 13v2m0 108v3m0 8v1m0 1v2m1-290v1m0 122v1m0 38v3m0 125v2m0 40v3m0 1v2m0 1v1m1-350v1m0 49v2m0 79v1m0 2v1m0 28v3m0 25v1m0 104v1m0 5v3m0 21v1m0 5v4m0 5v1m1-290v2m0 81v1m0 30v1m0 1v3m0 1v1m0 8v2m0 7v1m0 114v2m0 14v5m0 10v1m0 10v1m0 50v3m1-265v4m0 21v1m0 11v1m0 6v1m0 2v3m0 3v1m0 92v2m0 23v3m0 10v1m0 25v1m0 4v1m0 18v1m1-256v12m0 1v2m0 10v1m0 7v13m0 13v1m0 4v1m0 6v3m0 92v1m0 37v1m0 24v1m0 7v1m0 13v4m1-294v1m0 5v3m0 42v1m0 13v1m0 33v3m0 116v1m0 58v3m0 2v8m0 6v1m0 10v1m0 11v1m1-319v1m0 2v2m0 3v2m0 55v5m0 146v1m0 62v2m0 13v1m0 12v1m1-406v3m0 97v1m0 7v2m0 296v2m1-409v1m0 3v7m0 16v2m0 25v3m0 1v2m0 51v2m0 41v1m0 179v1m0 19v4m0 51v2m0 8v1m0 3v1m1-426v2m0 11v3m0 11v2m0 2v1m0 22v2m0 6v1m0 52v1m0 3v5m0 29v3m0 57v2m0 12v1m0 106v1m0 2v1m0 5v1m0 69v1m0 9v1m1-426v2m0 16v7m0 3v1m0 5v2m0 19v1m0 62v1m0 1v1m0 33v1m0 59v1m0 2v1m0 115v3m0 4v1m0 5v2m0 21v1m1-371v1m0 36v1m0 17v1m0 72v4m0 22v1m0 19v2m0 43v1m0 113v1m0 8v1m0 6v1m0 10v2m0 7v1m1-332v2m0 13v2m0 48v1m0 23v1m0 4v2m0 19v1m0 19v1m0 3v2m0 41v2m0 94v2m0 25v1m0 15v1m1-320v3m0 4v6m0 25v1m0 5v3m0 34v3m0 1v2m0 7v2m0 18v1m0 24v1m0 24v1m0 10v1m0 6v3m0 90v1m0 28v2m0 21v1m1-325v4m0 40v1m0 36v1m0 30v1m0 38v1m0 10v1m0 10v1m0 8v4m0 85v1m0 4v1m0 26v2m0 17v2m1-279v1m0 231v1m0 27v1m0 8v1m0 5v1m0 54v4m1-355v1m0 12v1m0 1v1m0 18v1m0 55v2m0 22v1m0 25v1m0 3v2m0 108v1m0 34v1m0 13v3m0 3v4m0 42v1m1-393v1m0 48v1m0 3v1m0 16v1m0 40v1m0 17v1m0 49v2m0 101v1m0 9v1m0 32v1m0 17v3m0 4v2m0 41v1m0 3v1m1-468v2m0 3v1m0 32v1m0 1v6m0 63v2m0 6v1m0 6v1m0 3v1m0 50v1m0 2v1m0 10v3m0 41v8m0 1v2m0 102v2m0 11v1m0 29v2m0 27v3m0 39v1m0 1v1m1-465v3m0 41v1m0 60v1m0 3v6m0 8v3m0 47v1m0 1v2m0 4v9m0 172v2m0 59v2m0 38v1m1-461v1m0 100v1m0 57v11m0 26v3m0 162v4m0 8v2m0 47v2m0 25v1m1-457v1m0 8v1m0 65v1m0 45v1m0 271v1m0 37v2m0 21v2m1-478v3m0 16v3m0 10v1m0 24v4m0 7v1m0 18v6m0 5v1m0 45v4m0 265v2m1-397v1m0 14v4m0 19v1m0 4v2m0 4v1m0 18v1m0 6v3m0 52v2m0 11v1m0 53v1m0 13v1m1-193v5m0 13v1m0 7v4m0 83v2m0 8v1m0 53v1m0 15v1m0 174v1m0 22v1m1-424v1m0 36v4m0 6v2m0 44v1m0 53v4m0 3v1m0 29v1m0 23v1m0 17v2m0 1v1m0 168v1m1-358v6m0 47v2m0 55v1m0 1v1m0 53v1m0 23v1m0 12v1m0 6v3m1-258v3m0 97v1m0 135v3m0 10v4m0 29v1m1-182v1m0 24v1m0 28v1m0 83v4m0 187v2m1-347v1m0 39v1m0 28v1m0 88v2m0 150v2m0 25v2m0 4v1m0 3v2m1-348v1m0 21v5m0 42v1m0 237v1m0 3v2m0 22v1m0 2v1m0 9v3m0 4v3m1-357v1m0 15v1m0 3v1m0 5v3m0 4v4m0 1v3m0 28v1m0 235v1m0 6v1m0 12v9m0 16v4m0 3v2m1-365v2m0 21v1m0 1v1m0 9v4m0 8v1m0 28v1m0 113v1m0 119v1m0 8v4m0 22v1m0 19v2m1-371v2m0 1v1m0 24v1m0 52v1m0 113v1m0 117v1m0 13v2m0 1v4m1-336v2m0 12v1m0 69v2m0 54v6m0 38v4m0 126v1m0 38v1m1-355v1m0 2v2m0 11v1m0 70v1m0 31v3m0 17v2m0 6v5m0 32v1m0 4v2m0 123v1m0 40v1m1-339v2m0 37v1m0 31v1m0 28v2m0 3v6m0 24v2m0 10v2m0 13v1m0 1v3m0 7v1m0 8v1m1-203v1m0 20v1m0 37v1m0 58v1m0 11v2m0 6v1m0 17v2m0 7v1m0 2v1m0 25v3m1-198v1m0 2v1m0 19v1m0 37v2m0 70v6m0 3v1m0 17v1m0 9v2m0 4v5m0 17v3m0 151v1m1-329v1m0 38v1m0 50v2m0 27v1m0 17v1m0 10v1m0 9v3m0 16v3m0 134v1m0 21v2m1-369v3m0 120v2m0 44v1m0 1v1m0 8v1m0 11v2m0 152v1m0 22v6m1-383v1m0 5v2m0 3v1m0 1v1m0 92v1m0 27v3m0 65v1m0 152v1m0 14v1m0 12v1m1-387v3m0 2v4m0 6v1m0 28v1m0 71v2m0 8v2m0 2v1m0 9v1m0 18v1m0 46v1m0 167v1m0 12v2m1-390v1m0 22v1m0 22v1m0 65v5m0 2v2m0 5v1m0 2v2m0 47v4m0 26v1m1-210v1m0 121v1m0 3v1m0 83v1m1-212v1m0 123v3m0 85v1m1-217v4m0 47v2m0 24v1m0 104v1m0 34v1m0 155v1m1-324v1m0 27v1m0 19v6m0 77v1m0 16v2m0 18v1m1-168v4m0 24v1m0 24v2m0 9v2m0 51v7m0 21v2m0 21v1m0 162v1m1-328v1m0 24v1m0 2v2m0 21v2m0 4v3m0 52v1m0 7v1m0 18v2m0 24v1m0 160v1m1-301v2m0 3v1m0 21v4m0 53v1m0 27v1m0 171v2m0 1v5m0 1v1m0 5v1m1-294v1m0 24v5m0 247v1m0 10v1m1-319v1m0 16v1m0 13v3m0 26v3m0 24v2m0 1v1m0 55v1m0 159v1m0 12v1m1-305v2m0 17v4m0 25v1m0 19v4m0 5v4m0 10v1m0 22v3m0 15v1m0 172v1m1-307v1m0 67v1m0 4v2m0 7v2m0 7v1m0 16v1m0 1v5m0 3v2m0 14v1m0 172v2m1-354v1m0 32v1m0 10v1m0 67v1m0 16v2m0 3v2m0 16v1m0 28v3m1-185v1m0 43v1m0 87v1m0 1v1m0 50v4m1-190v1m0 43v1m0 145v2m0 142v4m1-339v1m0 169v3m0 20v1m0 140v1m1-336v1m0 73v1m0 60v1m0 38v1m1-177v2m0 40v1m0 134v1m1-135v1m0 58v1m0 15v1m0 60v5m1-140v1m0 74v4m2-123v1m0 103v1m0 48v1m1-6v1m0 24v2m1-53v1m0 1v9m0 14v1m0 2v2m0 20v1m0 2v1m0 8v4m1-55v2m0 10v2m0 24v1m0 16v1m1-54v1m0 7v2m0 25v1m1-168v1m0 132v2m0 1v3m0 27v1m1-96v1m0 63v1m0 29v1m1-94v1m0 43v1m0 47v1m1-92v1m0 41v1m0 65v2m0 2v1m1-112v1m0 39v1m0 35v1m0 32v1m1-71v1m0 37v1m0 10v1m1-51v1m0 45v4m1-51v1m0 34v2m0 7v3m1-54v7m0 42v1m1-52v1m0 71v1m2-73v1m3-25v1m0 25v1m0 34v3m0 7v5m0 1v1m1-13v4m0 1v1m1-2v1m1-42v1m0 66v2m1-32v1m1-6v5m1-37v1m0 30v1m0 17v1m0 15v1m1-68v2m0 30v1m0 19v1m1-54v1m0 29v3m0 21v2m1-57v1m0 28v2m0 15v3m0 8v1m0 9v1m1-23v1m0 12v2m0 6v1m1-7v1m0 4v1m1-5v1m0 2v1m1-3v2m0 14v2m1-16v1m1 0v2m1-22v1m0 3v1m0 17v1m1-22v2m0 20v1m3 11v1m1-4v2"/>
<path fill="none" stroke="#3c4448" stroke-width="1" shape-rendering="crispEdges" d="M147.5 86.2 L156.2 87.5 L163.8 93.8 L170 101.2 L175 107.5 L180 111.2 L183.8 116.2 L190 122.5 L196.2 118.8 L201.2 122.5 L207.5 122.5 L217.5 125 L225 126.2 L230 125.5M180 111.2 L181.2 107 L186.2 109.5 L190 105 L195 100 L199.2 98.8 L200 110 L198 113.8 L201.2 118 L201.2 122.5M227.5 80 L223.8 86.2 L225 95 L230 102.5 L231.2 107.5 L225 115 L217.5 125M230 126.8 L233 129.8 L236.8 135 L242 139.5 L244.2 141 L248.8 143.2 L254 141.8 L260 139.5 L260.8 135 L266.8 132.8 L271.2 131.2 L278 130.5 L282.5 125.2 L287.8 124.5 L290.8 123 L294.5 126.8 L298.2 131.2 L305 131.2 L309.5 131.2 L313.2 135.8 L321.5 136.5 L326 133.5 L328.2 131.2 L333.5 132.8 L335 129 L341.8 128.2 L345.5 124.5 L346.2 119.2 L350 117M350.2 115.5 L354 112.5 L356.2 108 L360.8 113.2 L363.8 116.2 L375 115.5 L376.5 117.8 L372.8 123 L371.2 128.2 L378.8 128.2 L380.2 123.8 L383.2 123M248.8 143.2 L254 146.2 L262.2 148.5 L271.2 153 L273.5 157.5 L278 159.8 L286.2 159 L290 160.5 L290 165.8 L289.2 174M287.5 174 L286.8 181.5 L287.5 186.8 L294.2 186.8 L295 190.5 L294.2 193.5 L293.5 199.5 L292 208.5 L289.8 211.5 L295 217.5 L299.5 220.5 L305.5 223.5 L310 222 L314.5 224.2 L320.5 226.5 L325 228 L331.8 231 L332.5 235.5 L331.8 240 L330.2 246M330 246.8 L336 249 L336.8 253.5 L338.2 260.2 L345 261.8 L349.5 264 L354 266.2 L360.8 267 L366.8 267.8 L373.5 265.5 L377.2 260.2 L380.2 253.5 L385.5 252.8 L390 253.5 L394.5 251.2 L400.5 250.5 L405 249.8 L407.2 247.5M330 177 L333 174.8 L338.2 176.2 L342.8 174.8 L345.8 172.5 L348.8 177 L352.5 182.2 L356.2 186.8 L358.5 189.8 L357 194.2 L352.5 192.8 L347.2 192 L344.2 193.5 L340.5 191.2 L334.5 192 L330.8 192.8 L329.2 184.5 L330 177M123.8 133.8 L130 137.5 L140 138.8 L146.2 141.2 L145.5 150 L140 150 L135 146.2 L132.5 140 L126.2 137.5 L123.8 133.8M62 206.2 L70 202.5 L77.5 196.2 L83.8 190 L90 195.8 L97.5 197.5 L98.8 210 L97 218 L101.2 220 L108.8 216.2 L117.5 215 L122.5 212.5 L123.8 206.2 L122 198.8 L116.2 192.5 L123.8 188.8 L130 187 L133.8 195.8 L141.2 197 L147.5 192.5 L152.5 188.8 L151.8 197.5 L147.5 202.5 L150 208 L147.5 212.5 L153 218 L155 225 L160 227.5 L161.2 235 L165.5 236.2 L166.2 245M260 148.8 L256.2 156.2 L245 158.8 L235 160 L225 163.8M224.5 164 L227.5 171.5 L233.5 182 L235 189.5 L238 200 L237.2 212 L235 219.5 L227.5 220.2 L221.5 221.8 L218.5 227M218.5 227 L220 235 L221 245 L221 257M157 227 L161.5 230 L165.2 234.5 L166 242 L165.2 249.5 L172 252.5 L176.5 256.2 L172.8 261.5 L175 267.5 L171.2 272 L175 274.2 L179.5 275.8M180 269 L186.5 268 L188 271 L192 268 L200 264.5 L207 259 L209.5 256 L213 256.5 L214.5 258.5 L221 257M221 257 L230 266.2 L235 268.8 L245 268.8 L255 267.5 L262.5 270 L275 267.5 L290 266.2M320 225 L330 230 L335 233.8 L333 242.5 L325 244.5 L316.2 248.8 L307.5 250 L297.5 252.5 L292.5 257.5 L290 266.2M290 266.2 L292.5 275 L293.8 286.2 L296.2 291.2 L293.8 297.5 L297.5 302.5 L296.2 310 L293.8 315 L297.5 322.5 L290 327.5 L283.8 325 L280 332.5M22.5 341.2 L32.5 340 L40 338.8 L42.5 333 L53.8 328 L62.5 323.8 L73.8 320 L86.2 316.2 L88 307.5 L90.5 302.5M90.5 302.5 L98.8 297.5 L110 297.5 L117.5 293 L127.5 290.5 L132.5 287.5 L133.8 278.8 L127.5 276.2 L129.5 271.2 L138.8 266.2 L140.5 261.2M90.5 302.5 L100 311.2 L103.8 319.5 L101.2 325 L96.2 331.2M98.8 340 L102.5 348.8 L95 355 L91.2 361.2 L87.5 366.2 L92.5 371.2 L103.8 367.5 L110 370 L113.8 375 L112.5 385 L116.2 391.2 L113.8 397.5 L115 405 L117.5 412.5 L116.2 417.5M116.2 417.5 L113.8 425 L111.2 435 L108.8 441.2 L101.2 445M116.2 417.5 L122.5 412.5 L132.5 410 L140 410 L147.5 405 L160 397.5 L158.8 391.2 L162.5 387.5 L168.8 390 L170 396.2 L166.2 405 L170 412.5 L177.5 416.2 L195 415M197 411.1 L201.1 424.9 L203.9 435.9 L212.2 444.2 L214.1 455.2 L213 464.9 L205.2 467.7 L206.6 476 L202.5 481.5 L194.2 484.2 L191.4 491.2 L194.2 499.4 L195.6 510.5 L198.3 521.5 L197 532.6 L197.5 539.5 L188.7 542.3 L179 546.4 L174.9 547.8"/>
</g>
<polygon fill="none" stroke="#3c4448" stroke-width="1" stroke-linejoin="round" points="132.5,13.5 134.75,11.25 146.75,12.75 153.5,15 159.5,18.75 167.75,17.25 173.75,14.25 176,16.5 183.5,20.25 187.25,21.75 191,24.75 191.75,37.5 186.5,45 185,45.75 196.25,43.5 200,48 207.5,47.25 215,50.25 221.75,55.5 230,54 230,50.75 237.5,50 237.8,63.5 234.5,66.5 230,71 229.75,72 224.5,75 226,78.75 229,80.25 233.5,79.5 234.5,77.75 242.75,77 245,81.5 251,83 252.5,85.25 254.75,84.5 254,80.75 251.75,80.75 251,79.25 255.5,77 257,72.5 261.5,68 266.75,65.75 275,65 282.5,64.25 285.5,59.75 290,56.75 292.25,55.25 294.5,47.75 298.25,42.5 301.25,44 317,44.75 318.5,46.25 314,47.75 304.25,49.25 299,52.25 295.25,56.75 294.5,59 296.75,59 298.25,55.25 302,51.5 306.5,50 313.25,51.5 317,47.75 321.5,50 323,53.75 326,56.75 331.25,57.5 335,61.25 338,65.75 341,68.75 342.56,66.67 346.69,63.92 350.83,63.23 352.89,65.3 354.27,70.81 355.65,75.63 358.41,79.76 359.78,81.83 357.03,84.59 356.34,86.65 360.47,88.72 364.61,90.79 370.12,92.17 375.63,91.48 378.75,100 380,108.75 383.12,118.75 384.38,123.75 386.5,127.25 384,131.25 383.75,141.88 378.75,146.88 374.38,149.38 374.38,155 373.75,158.12 377.5,160.62 382.5,163.75 390,171.25 396.25,175 397.5,186.25 395,190 396.25,198.75 402.5,200 402.5,207.5 405,213.75 403.75,220 400,231.25 401.25,234 403.5,238.5 407.25,243 407.25,247.5 405,249.75 409.5,252 415.5,254.25 418.5,258 420,264 422.25,270.75 420.75,275.25 420,283.5 418.5,286.5 419.25,291 417.75,297 414,301.5 412.5,304.5 408,302.25 405,301.5 404.25,297.75 401.25,292.5 398.25,288.75 396,290.25 390,288.75 388.5,290.25 389.25,292.5 393,295.5 394.5,297.75 390,300.75 382.5,304.5 375,307.5 372,309 370.5,312.75 364.5,313.5 360,315 355.5,318 352.5,321 341.25,326.75 340,330.5 332.5,335.5 331.25,339.25 325,338 312.5,340.5 307.5,345.5 303.75,353 299.5,357.75 298,351.75 295,348 292.75,348.75 290.5,349.5 295,355.5 295,360 298.75,363 301.75,366 305.5,370.5 309.25,371.25 310.75,375 310,380.25 307.75,383.25 306.25,387.75 310,391.5 312.25,397.5 314.5,402 316.75,406.5 319.75,410.25 322.75,414.75 325,417.75 331.75,416.25 335.5,420.75 338.5,424.5 343,429.75 349,432 353.5,435 355,442.5 362.5,442.5 370,447.5 375,453.75 376.75,460 376.25,472.5 372.5,475 366.25,470 360,476.25 358.75,485 350,491.25 337.5,496.25 330,503.75 325,508.75 332.5,517.5 337.5,523.75 336.25,533.75 343.75,537.5 344.5,543.75 341.25,551.25 336.25,552.5 330,546.25 327.5,541.25 330,535 322.5,540 316.25,542.5 310,538.75 301.25,538.75 300,545 292.5,545 282.5,543.75 272.5,547.5 268.75,552.5 261,554 258,557.75 253.5,560.75 246,560 240,561.5 235.5,554 231,552.5 225,550.25 219.75,550.25 214.5,548 213,551 214.5,555.5 213.75,559.25 210,561.5 204.75,562.25 201.75,564.5 202.5,569.75 200.25,570.5 199.5,564.5 195.75,563 195.75,558.5 193.5,554.75 189.75,551.75 186,552.5 182.25,548.75 178.5,548 175.5,549.5 168.75,547.25 166.5,544.25 159,542 153,541.25 152.25,537.5 150,534.5 145,533.75 140,540 132.5,540 127.5,537.5 122.5,533.75 116.25,535 113,540 117.5,543.75 120,546.25 123.75,543.75 124.25,546.75 110,545 105,547.5 95,548.75 85,546.25 76.25,550 68.75,540 71.25,527.5 73,512.5 77.5,500 81.25,485 85,472.5 93.75,461.25 100,450 105,445 104,445.19 97.5,442.75 92.62,440.31 84.5,439.5 78,437.88 71.5,434.62 71.5,429.75 64.19,427.31 62.56,431.38 54.44,430.56 52,432.68 49.56,431.38 48.75,426.5 40.62,426.5 36.56,428.94 34.12,426.5 31.69,421.62 27.62,414.31 24.38,408.62 18.69,406.19 18.69,397.25 21.94,394 23.56,387.5 25.19,381.81 19.5,378.56 13.81,373.69 9.75,367.19 8.94,360.69 10.56,355 11.38,354.93 12.19,349.56 16.25,344.69 21.94,341.44 21.94,337.38 20.31,331.69 15.44,329.25 13.81,325.19 16.25,321.12 15.44,317.88 12.19,314.62 8.94,311.38 6.5,307.31 8.12,304.06 13,300.81 8.12,297.56 7.31,294.31 1.62,292.69 2.44,289.44 7.31,286.19 12.19,282.12 11.38,276.44 15.44,270.75 19.5,266.69 17.88,261 17.5,261 16.75,252 13.75,247.5 10.75,241.5 10,232.5 19,231.75 27.25,232.5 28.75,231 34,231 41.5,228.75 46.75,225.75 47.5,222 43.75,218.25 45.25,214.5 49.75,211.5 54.25,207.75 58.75,204 59.5,198 60.25,193.5 58,189 55,188.25 49.75,187.5 44.5,186 45.25,180.75 46.75,174.75 60.25,174.75 60.5,174 61.25,168.75 62,163.5 65,159 67.25,153 68.75,144.75 67.25,141.75 69.5,138 70.25,127.5 72.5,124.5 71.75,120.75 66.5,123 61.25,124.5 60.2,123 61.25,119.25 62,111.75 65.75,111 65,107.25 72.5,101.25 83,100.5 95,99.75 105.5,99 108.5,104.25 111.5,111.75 110.75,114.75 107,114.75 108.5,118.5 113,122.25 117.5,118.5 118.25,114.75 115.25,111.75 116,108 119,107.25 123.5,111 128,111 130.25,114 129.5,116.25 131.75,115.5 132.5,111.75 130.25,108 126.5,106.5 125.75,101.25 128,93 131.75,87.75 133.75,86.25 140,90 147.5,86.25 145.25,85.5 140.75,77.25 143.75,76.5 146.75,75 146,70.5 141.5,66 142.25,59.25 146,51.75 139.25,54.75 134.75,57.75 131,57 131,53.25 136.25,50.25 142.25,48 148.25,45 149.75,41.25 147.5,38.25 142.25,31.5 137,22.5 133.25,17.25"/>
<polygon fill="none" stroke="#a3aaaa" stroke-width="0.8" points="45.5,105 50,104.25 52.25,105 49.25,107.25 47,106.5"/>
<polygon fill="none" stroke="#a3aaaa" stroke-width="0.8" points="90.5,93.3 95.75,93.6 95.75,94.8 90.5,94.5"/>
<polygon fill="none" stroke="#a3aaaa" stroke-width="0.8" points="124.25,1.5 125.75,2.25 122.75,6.75 121.7,10.5 124.25,13.8 126.8,14.7 123.8,15.75 121.25,14.25 119.75,12 120.5,8.25 122,4.5"/>
<polygon fill="none" stroke="#a3aaaa" stroke-width="0.8" points="123.5,24.75 125.75,23.25 131,24 131.75,27 128.75,28.5 125,27.75"/>
<polygon fill="none" stroke="#a3aaaa" stroke-width="0.8" points="119.3,29.25 121.25,30 122.75,33 121.25,33.3 119.75,31.5"/>
<polygon fill="none" stroke="#a3aaaa" stroke-width="0.8" points="131.75,39.75 134.75,38.25 136.7,39.3 134.75,42 132.5,41.7"/>
<polygon fill="none" stroke="#a3aaaa" stroke-width="0.8" points="140.75,42 143.75,40.2 146.75,41.25 145.25,44.25 142.25,45"/>
<polygon fill="none" stroke="#a3aaaa" stroke-width="0.8" points="128.75,31.8 134,30.45 134.3,31.5 129.5,33"/>
<polygon fill="none" stroke="#a3aaaa" stroke-width="0.8" points="127.25,36 130.25,36.3 130.25,37.2 127.25,36.9"/>
<polygon fill="none" stroke="#a3aaaa" stroke-width="0.8" points="234.5,42.5 236.75,40.25 241.25,40.25 244.25,43.25 246.5,47 247.25,49.25 242.75,48.5 239,46.25 236.75,47 234.5,45.5"/>
<polygon fill="none" stroke="#a3aaaa" stroke-width="0.8" points="328.09,30.16 330.85,26.71 335.67,25.33 337.74,26.02 337.05,28.78 334.98,30.85 335.67,34.29 339.11,35.67 342.56,32.91 347.38,32.22 348.07,36.36 346,39.8 343.25,41.87 344.63,46 349.45,48.07 351.52,50.83 350.14,53.58 348.76,52.2 348.76,50.14 344.63,48.76 340.49,50.14 337.74,53.58 335.67,56.34 337.05,59.09 335.67,59.78 333.6,57.72 329.47,56.34 326.71,55.65 324.65,52.89 325.33,49.45 328.78,47.38 326.71,44.63 324.65,46 323.96,42.56 325.33,37.74 327.4,35.67 328.78,32.91"/>
<polygon fill="none" stroke="#a3aaaa" stroke-width="0.8" points="354,62.54 355.93,63.23 359.09,68.74 362.54,69.43 365.98,72.87 373.56,79.07 372.87,82.52 368.74,83.21 363.23,83.9 359.37,85.55 357.99,83.9 360.75,81.42 359.37,77.97 357.03,75.63 355.79,71.5 354.96,67.36"/>
<g fill="#fff" stroke="#a3aaaa" stroke-width="0.7"><polygon points="332.22,32.22 334.98,31.54 335.67,34.29 339.11,35.67 341.18,37.05 340.49,39.8 337.05,39.11 334.29,35.67"/><polygon points="326.71,39.8 329.47,39.11 330.16,41.87 328.09,43.25 326.02,42.56"/><polygon points="358.41,71.5 362.54,70.12 365.3,72.87 365.98,76.32 363.23,78.39 361.16,75.63 359.09,74.94"/></g><g fill="none" stroke="#a3aaaa" stroke-width="1"><polyline points="323.54,33.6 322.58,40.49 320.79,44.63"/><polyline points="55.25,100.5 64.25,99.75"/><polyline points="67.25,98.25 73.25,97.5 80,96.75"/><polyline points="81.5,96 88.25,95.25"/><polyline points="98.75,93 102.5,93.3 105.5,94.8 105.5,96.3"/></g>
<g font-family="'Liberation Sans',Arial,sans-serif" fill="#000">
<text x="469" y="205.5" font-size="15.7">Relative Namensverteilung</text>
<rect x="475" y="223" width="10" height="10" fill="#eeeeee"/>
<text x="501.5" y="232.5" font-size="13.33">weniger als 50 Vorkommen pro Mio</text>
<rect x="475" y="243" width="10" height="10" fill="#ffcc33"/>
<text x="501.5" y="252.5" font-size="13.33">bis 250 Vorkommen pro Mio</text>
<rect x="475" y="263" width="10" height="10" fill="#ff9900"/>
<text x="501.5" y="272.5" font-size="13.33">bis 500 Vorkommen pro Mio</text>
<rect x="475" y="283" width="10" height="10" fill="#ff6600"/>
<text x="501.5" y="292.5" font-size="13.33">bis 750 Vorkommen pro Mio</text>
<rect x="475" y="303" width="10" height="10" fill="#cc0033"/>
<text x="501.5" y="312.5" font-size="13.33">bis 1000 Vorkommen pro Mio</text>
<rect x="475" y="323" width="10" height="10" fill="#990033"/>
<text x="501.5" y="332.5" font-size="13.33">mehr als 1000 Vorkommen pro Mio</text>
</g>
<rect x="500.5" y="510.5" width="146" height="36" rx="4" ry="4" fill="#fff" stroke="#999" stroke-width="1"/>
<g font-family="'Liberation Sans',Arial,sans-serif" fill="#aaa" font-size="10.67" text-anchor="middle"><text x="577.5" y="525">Geogen 3.0</text><text x="578" y="539.5">Weber (88544)</text></g>
</svg></body></html>
